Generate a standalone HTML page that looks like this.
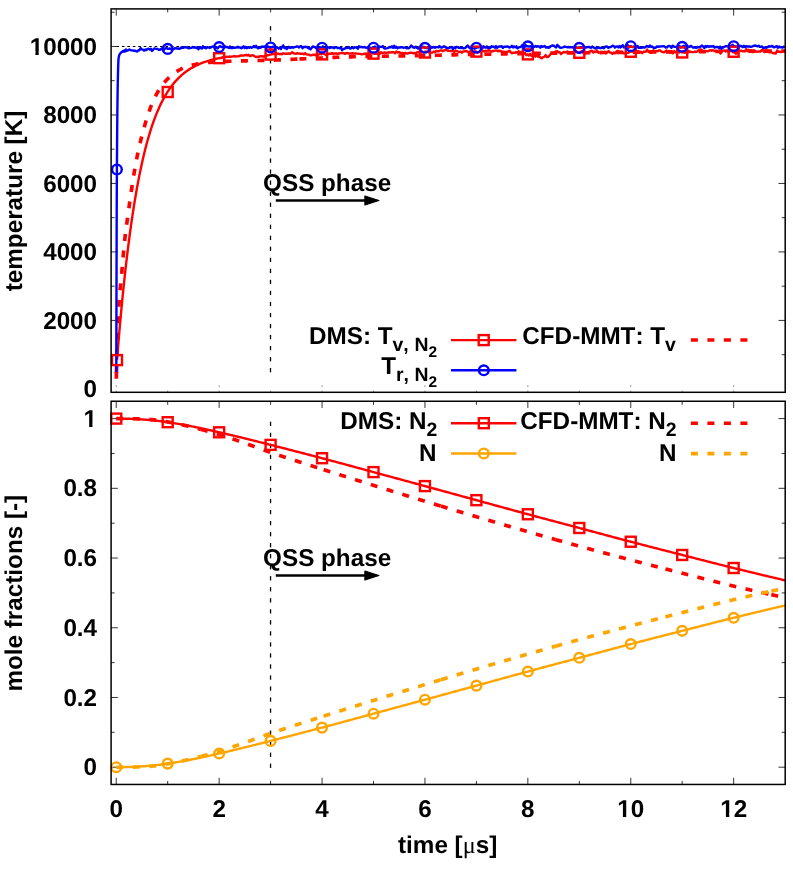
<!DOCTYPE html>
<html lang="en">
<head>
<meta charset="utf-8">
<title>DMS vs CFD-MMT: temperature and mole fractions</title>
<style>
html,body{margin:0;padding:0;background:#fff;}
body{width:793px;height:872px;overflow:hidden;font-family:"Liberation Sans",sans-serif;}
svg{display:block;will-change:transform;-webkit-font-smoothing:antialiased;text-rendering:geometricPrecision;}
text{font-kerning:none;}
</style>
</head>
<body>
<svg width="793" height="872" viewBox="0 0 793 872">
<rect x="0" y="0" width="793" height="872" fill="#fff"/>
<!-- top plot -->
<line x1="116.45" y1="46.46" x2="785.20" y2="46.46" stroke="#000" stroke-width="1.15" stroke-dasharray="2.6 2.85"/>
<g stroke="#000" stroke-width="0.80" fill="none"><line x1="116.25" y1="8.90" x2="116.25" y2="15.60"/><line x1="167.70" y1="8.90" x2="167.70" y2="12.40"/><line x1="219.15" y1="8.90" x2="219.15" y2="15.60"/><line x1="270.60" y1="8.90" x2="270.60" y2="12.40"/><line x1="322.05" y1="8.90" x2="322.05" y2="15.60"/><line x1="373.50" y1="8.90" x2="373.50" y2="12.40"/><line x1="424.95" y1="8.90" x2="424.95" y2="15.60"/><line x1="476.40" y1="8.90" x2="476.40" y2="12.40"/><line x1="527.85" y1="8.90" x2="527.85" y2="15.60"/><line x1="579.30" y1="8.90" x2="579.30" y2="12.40"/><line x1="630.75" y1="8.90" x2="630.75" y2="15.60"/><line x1="682.20" y1="8.90" x2="682.20" y2="12.40"/><line x1="733.65" y1="8.90" x2="733.65" y2="15.60"/><line x1="111.10" y1="320.41" x2="117.80" y2="320.41"/><line x1="785.20" y1="320.41" x2="778.50" y2="320.41"/><line x1="111.10" y1="251.92" x2="117.80" y2="251.92"/><line x1="785.20" y1="251.92" x2="778.50" y2="251.92"/><line x1="111.10" y1="183.44" x2="117.80" y2="183.44"/><line x1="785.20" y1="183.44" x2="778.50" y2="183.44"/><line x1="111.10" y1="114.95" x2="117.80" y2="114.95"/><line x1="785.20" y1="114.95" x2="778.50" y2="114.95"/><line x1="111.10" y1="46.46" x2="117.80" y2="46.46"/><line x1="785.20" y1="46.46" x2="778.50" y2="46.46"/><line x1="111.10" y1="354.66" x2="114.60" y2="354.66"/><line x1="785.20" y1="354.66" x2="781.70" y2="354.66"/><line x1="111.10" y1="286.17" x2="114.60" y2="286.17"/><line x1="785.20" y1="286.17" x2="781.70" y2="286.17"/><line x1="111.10" y1="217.68" x2="114.60" y2="217.68"/><line x1="785.20" y1="217.68" x2="781.70" y2="217.68"/><line x1="111.10" y1="149.19" x2="114.60" y2="149.19"/><line x1="785.20" y1="149.19" x2="781.70" y2="149.19"/><line x1="111.10" y1="80.70" x2="114.60" y2="80.70"/><line x1="785.20" y1="80.70" x2="781.70" y2="80.70"/><line x1="111.10" y1="12.22" x2="114.60" y2="12.22"/><line x1="785.20" y1="12.22" x2="781.70" y2="12.22"/></g><g stroke="#000" stroke-width="0.80" fill="none" opacity="0.8"><line x1="116.25" y1="385.50" x2="116.25" y2="386.70"/><line x1="116.25" y1="390.70" x2="116.25" y2="391.70"/><line x1="167.70" y1="390.70" x2="167.70" y2="391.70"/><line x1="219.15" y1="385.50" x2="219.15" y2="386.70"/><line x1="219.15" y1="390.70" x2="219.15" y2="391.70"/><line x1="270.60" y1="390.70" x2="270.60" y2="391.70"/><line x1="322.05" y1="385.50" x2="322.05" y2="386.70"/><line x1="322.05" y1="390.70" x2="322.05" y2="391.70"/><line x1="373.50" y1="390.70" x2="373.50" y2="391.70"/><line x1="424.95" y1="385.50" x2="424.95" y2="386.70"/><line x1="424.95" y1="390.70" x2="424.95" y2="391.70"/><line x1="476.40" y1="390.70" x2="476.40" y2="391.70"/><line x1="527.85" y1="385.50" x2="527.85" y2="386.70"/><line x1="527.85" y1="390.70" x2="527.85" y2="391.70"/><line x1="579.30" y1="390.70" x2="579.30" y2="391.70"/><line x1="630.75" y1="385.50" x2="630.75" y2="386.70"/><line x1="630.75" y1="390.70" x2="630.75" y2="391.70"/><line x1="682.20" y1="390.70" x2="682.20" y2="391.70"/><line x1="733.65" y1="385.50" x2="733.65" y2="386.70"/><line x1="733.65" y1="390.70" x2="733.65" y2="391.70"/></g>
<g stroke="#000" stroke-width="1.3" fill="none"><line x1="270.50" y1="26.10" x2="270.50" y2="30.40"/><line x1="270.50" y1="37.13" x2="270.50" y2="41.43"/><line x1="270.50" y1="48.16" x2="270.50" y2="52.46"/><line x1="270.50" y1="59.19" x2="270.50" y2="63.49"/><line x1="270.50" y1="70.22" x2="270.50" y2="74.52"/><line x1="270.50" y1="81.25" x2="270.50" y2="85.55"/><line x1="270.50" y1="92.28" x2="270.50" y2="96.58"/><line x1="270.50" y1="103.31" x2="270.50" y2="107.61"/><line x1="270.50" y1="114.34" x2="270.50" y2="118.64"/><line x1="270.50" y1="125.37" x2="270.50" y2="129.67"/><line x1="270.50" y1="136.40" x2="270.50" y2="140.70"/><line x1="270.50" y1="147.43" x2="270.50" y2="151.73"/><line x1="270.50" y1="158.46" x2="270.50" y2="162.76"/><line x1="270.50" y1="169.49" x2="270.50" y2="173.79"/><line x1="270.50" y1="180.52" x2="270.50" y2="184.82"/><line x1="270.50" y1="191.55" x2="270.50" y2="195.85"/><line x1="270.50" y1="202.58" x2="270.50" y2="206.88"/><line x1="270.50" y1="213.61" x2="270.50" y2="217.91"/><line x1="270.50" y1="224.64" x2="270.50" y2="228.94"/><line x1="270.50" y1="235.67" x2="270.50" y2="239.97"/><line x1="270.50" y1="246.70" x2="270.50" y2="251.00"/><line x1="270.50" y1="257.73" x2="270.50" y2="262.03"/><line x1="270.50" y1="268.76" x2="270.50" y2="273.06"/><line x1="270.50" y1="279.79" x2="270.50" y2="284.09"/><line x1="270.50" y1="290.82" x2="270.50" y2="295.12"/><line x1="270.50" y1="301.85" x2="270.50" y2="306.15"/><line x1="270.50" y1="312.88" x2="270.50" y2="317.18"/><line x1="270.50" y1="323.91" x2="270.50" y2="328.21"/><line x1="270.50" y1="334.94" x2="270.50" y2="339.24"/><line x1="270.50" y1="345.97" x2="270.50" y2="350.27"/><line x1="270.50" y1="357.00" x2="270.50" y2="361.30"/><line x1="270.50" y1="368.03" x2="270.50" y2="372.33"/></g>
<path d="M117.00,360.10 L117.38,355.37 L117.75,350.72 L118.13,346.13 L118.51,341.62 L118.88,337.17 L119.26,332.80 L119.64,328.49 L120.01,324.25 L120.39,320.08 L120.77,315.96 L121.14,311.92 L121.52,307.93 L121.90,304.01 L122.27,300.15 L122.65,296.34 L123.03,292.60 L123.40,288.91 L123.78,285.28 L124.15,281.71 L124.53,278.19 L124.91,274.73 L125.28,271.32 L125.66,267.96 L126.04,264.66 L126.41,261.40 L126.79,258.20 L127.17,255.04 L127.54,251.94 L127.92,248.88 L128.30,245.87 L128.67,242.90 L129.05,239.98 L129.43,237.11 L129.80,234.28 L130.18,231.50 L130.56,228.75 L130.93,226.05 L131.31,223.40 L131.69,220.78 L132.71,213.83 L134.00,205.55 L135.29,197.70 L136.57,190.25 L137.86,183.20 L139.15,176.50 L140.43,170.16 L141.72,164.14 L143.00,158.43 L144.29,153.02 L145.58,147.89 L146.86,143.03 L148.15,138.42 L149.44,134.04 L150.72,129.90 L152.01,125.97 L153.29,122.24 L154.58,118.70 L155.87,115.35 L157.15,112.17 L158.44,109.16 L159.73,106.30 L161.01,103.59 L162.30,101.02 L163.58,98.59 L164.87,96.28 L166.16,94.09 L167.44,92.01 L168.73,90.04 L170.02,88.17 L171.30,86.40 L172.59,84.72 L173.87,83.13 L175.16,81.62 L176.45,80.19 L177.73,78.83 L179.02,77.55 L180.31,76.33 L181.59,75.17 L182.88,74.07 L184.16,73.03 L185.45,72.05 L186.74,71.11 L188.02,70.22 L189.31,69.38 L190.60,68.59 L191.88,67.83 L193.17,67.11 L194.45,66.43 L195.74,65.78 L197.03,65.16 L198.31,64.57 L199.60,64.00 L200.89,63.44 L202.17,62.92 L203.46,62.37 L204.74,61.94 L206.03,61.57 L207.32,61.10 L208.60,60.83 L209.89,60.28 L211.18,59.74 L212.46,59.71 L213.75,59.57 L215.03,59.00 L216.32,58.80 L217.61,58.43 L218.89,58.31 L220.18,57.92 L221.47,57.99 L222.75,57.09 L224.04,57.40 L225.32,57.00 L226.61,56.75 L227.90,56.90 L229.18,56.56 L230.47,56.69 L231.76,56.64 L233.04,56.43 L234.33,56.04 L235.61,56.55 L236.90,56.34 L238.19,56.25 L239.47,56.12 L240.76,55.35 L242.05,55.63 L243.33,55.56 L244.62,55.27 L245.90,54.85 L247.19,55.44 L248.48,54.73 L249.76,56.07 L251.05,55.74 L252.34,55.16 L253.62,55.53 L254.91,56.46 L256.19,57.10 L257.48,56.68 L258.77,57.11 L260.05,56.22 L261.34,56.30 L262.63,56.32 L263.91,56.69 L265.20,55.62 L266.48,55.66 L267.77,55.24 L269.06,54.97 L270.34,54.64 L271.63,54.29 L272.92,54.05 L274.20,53.96 L275.49,52.87 L276.77,54.25 L278.06,53.56 L279.35,54.18 L280.63,53.91 L281.92,54.27 L283.21,53.33 L284.49,53.72 L285.78,53.75 L287.06,53.80 L288.35,53.35 L289.64,53.83 L290.92,53.29 L292.21,52.27 L293.50,53.23 L294.78,53.54 L296.07,53.81 L297.35,53.18 L298.64,53.46 L299.93,53.78 L301.21,53.78 L302.50,53.60 L303.79,54.27 L305.07,53.23 L306.36,54.35 L307.64,54.49 L308.93,54.59 L310.22,55.39 L311.50,55.24 L312.79,54.77 L314.08,54.65 L315.36,55.30 L316.65,54.19 L317.93,54.84 L319.22,54.19 L320.51,53.94 L321.79,54.22 L323.08,53.00 L324.37,53.95 L325.65,54.75 L326.94,54.94 L328.22,53.96 L329.51,53.61 L330.80,53.93 L332.08,53.11 L333.37,53.90 L334.66,53.44 L335.94,53.32 L337.23,54.06 L338.51,53.45 L339.80,53.45 L341.09,53.15 L342.37,53.12 L343.66,53.16 L344.95,53.84 L346.23,53.09 L347.52,52.99 L348.80,53.59 L350.09,53.43 L351.38,53.49 L352.66,53.25 L353.95,53.69 L355.24,53.46 L356.52,53.57 L357.81,53.60 L359.09,53.89 L360.38,53.91 L361.67,54.42 L362.95,54.15 L364.24,53.73 L365.53,53.71 L366.81,53.59 L368.10,53.88 L369.38,53.06 L370.67,53.77 L371.96,53.13 L373.24,53.30 L374.53,53.84 L375.82,53.85 L377.10,53.39 L378.39,53.92 L379.67,54.00 L380.96,52.26 L382.25,52.99 L383.53,52.75 L384.82,52.33 L386.11,52.90 L387.39,52.66 L388.68,52.27 L389.96,52.74 L391.25,52.26 L392.54,52.30 L393.82,52.23 L395.11,53.21 L396.40,51.60 L397.68,52.46 L398.97,52.14 L400.25,52.89 L401.54,53.28 L402.83,52.90 L404.11,53.32 L405.40,52.86 L406.69,53.55 L407.97,53.50 L409.26,52.88 L410.54,52.79 L411.83,52.76 L413.12,53.24 L414.40,53.01 L415.69,53.45 L416.98,52.29 L418.26,52.15 L419.55,51.94 L420.83,53.05 L422.12,51.72 L423.41,52.42 L424.69,51.71 L425.98,51.81 L427.27,51.51 L428.55,52.29 L429.84,52.35 L431.12,52.61 L432.41,52.62 L433.70,51.57 L434.98,52.04 L436.27,50.96 L437.56,51.26 L438.84,51.27 L440.13,50.41 L441.41,50.41 L442.70,51.11 L443.99,50.48 L445.27,50.20 L446.56,49.94 L447.85,50.82 L449.13,50.82 L450.42,50.96 L451.70,50.91 L452.99,51.19 L454.28,52.07 L455.56,50.63 L456.85,51.09 L458.14,51.56 L459.42,52.04 L460.71,51.58 L461.99,52.65 L463.28,51.40 L464.57,51.29 L465.85,51.00 L467.14,51.36 L468.43,52.45 L469.71,51.61 L471.00,51.07 L472.28,52.64 L473.57,51.95 L474.86,51.21 L476.14,51.57 L477.43,52.73 L478.72,51.89 L480.00,51.34 L481.29,49.95 L482.57,51.02 L483.86,51.35 L485.15,50.80 L486.43,50.83 L487.72,50.67 L489.01,50.14 L490.29,50.93 L491.58,51.65 L492.86,50.91 L494.15,50.99 L495.44,50.50 L496.72,50.51 L498.01,51.35 L499.30,50.58 L500.58,50.87 L501.87,51.96 L503.15,51.76 L504.44,52.03 L505.73,51.85 L507.01,51.85 L508.30,51.52 L509.59,50.66 L510.87,52.45 L512.16,53.29 L513.44,52.66 L514.73,52.75 L516.02,52.23 L517.30,52.63 L518.59,51.24 L519.88,52.42 L521.16,52.05 L522.45,53.77 L523.73,53.76 L525.02,52.74 L526.31,55.16 L527.59,54.41 L528.88,55.51 L530.17,53.86 L531.45,55.72 L532.74,55.32 L534.02,55.53 L535.31,56.68 L536.60,54.64 L537.88,56.68 L539.17,56.09 L540.46,57.80 L541.74,58.22 L543.03,57.13 L544.31,56.92 L545.60,55.08 L546.89,57.03 L548.17,56.83 L549.46,55.48 L550.75,53.94 L552.03,52.88 L553.32,52.97 L554.60,52.26 L555.89,51.43 L557.18,51.11 L558.46,52.37 L559.75,52.19 L561.04,54.12 L562.32,52.95 L563.61,52.03 L564.89,52.22 L566.18,52.40 L567.47,51.41 L568.75,52.66 L570.04,53.01 L571.33,52.08 L572.61,51.98 L573.90,52.82 L575.18,51.59 L576.47,51.22 L577.76,52.62 L579.04,52.70 L580.33,52.07 L581.62,51.20 L582.90,52.73 L584.19,53.24 L585.47,53.55 L586.76,52.63 L588.05,52.24 L589.33,52.07 L590.62,51.20 L591.91,50.63 L593.19,52.48 L594.48,51.52 L595.76,52.03 L597.05,50.36 L598.34,52.79 L599.62,52.38 L600.91,52.05 L602.20,53.01 L603.48,52.35 L604.77,51.88 L606.05,53.37 L607.34,52.25 L608.63,51.07 L609.91,52.46 L611.20,52.73 L612.49,53.88 L613.77,52.44 L615.06,53.34 L616.34,51.75 L617.63,50.84 L618.92,51.50 L620.20,52.58 L621.49,51.86 L622.78,52.78 L624.06,53.35 L625.35,53.08 L626.63,52.74 L627.92,52.92 L629.21,52.13 L630.49,50.88 L631.78,51.62 L633.07,51.25 L634.35,51.90 L635.64,50.61 L636.92,51.48 L638.21,51.27 L639.50,52.50 L640.78,51.65 L642.07,53.18 L643.36,51.67 L644.64,51.72 L645.93,51.57 L647.21,49.51 L648.50,51.96 L649.79,51.33 L651.07,51.63 L652.36,50.96 L653.65,50.30 L654.93,51.71 L656.22,50.95 L657.50,51.20 L658.79,50.41 L660.08,50.44 L661.36,51.57 L662.65,51.89 L663.94,52.39 L665.22,51.45 L666.51,50.54 L667.79,51.39 L669.08,52.28 L670.37,52.54 L671.65,52.63 L672.94,53.36 L674.23,51.13 L675.51,52.34 L676.80,52.68 L678.08,50.98 L679.37,52.41 L680.66,51.55 L681.94,52.34 L683.23,51.69 L684.52,52.31 L685.80,52.56 L687.09,51.93 L688.37,51.61 L689.66,51.33 L690.95,51.91 L692.23,52.17 L693.52,52.16 L694.81,51.57 L696.09,52.02 L697.38,51.47 L698.66,50.21 L699.95,49.55 L701.24,49.44 L702.52,50.86 L703.81,51.92 L705.10,51.14 L706.38,51.11 L707.67,51.33 L708.95,50.79 L710.24,50.14 L711.53,50.70 L712.81,50.08 L714.10,51.10 L715.39,50.65 L716.67,51.18 L717.96,51.87 L719.24,50.88 L720.53,53.59 L721.82,51.65 L723.10,50.60 L724.39,50.43 L725.68,51.49 L726.96,50.30 L728.25,51.88 L729.53,51.28 L730.82,50.02 L732.11,51.35 L733.39,51.01 L734.68,52.87 L735.97,53.73 L737.25,52.90 L738.54,51.22 L739.82,51.07 L741.11,50.54 L742.40,51.21 L743.68,51.24 L744.97,51.39 L746.26,49.16 L747.54,51.18 L748.83,49.89 L750.11,51.29 L751.40,50.19 L752.69,52.08 L753.97,51.74 L755.26,51.10 L756.55,51.78 L757.83,51.67 L759.12,51.45 L760.40,51.67 L761.69,50.04 L762.98,50.29 L764.26,52.13 L765.55,49.72 L766.84,51.09 L768.12,51.71 L769.41,52.40 L770.69,52.20 L771.98,52.38 L773.27,53.38 L774.55,53.00 L775.84,53.51 L777.13,50.45 L778.41,51.84 L779.70,51.80 L780.98,52.00 L782.27,51.68 L783.56,51.28 L784.84,51.78" fill="none" stroke="#ff0000" stroke-width="2.40" stroke-linejoin="round"/>
<g fill="none" stroke="#ff0000" stroke-width="3.65" stroke-dasharray="7.00 9.50"><path stroke-dashoffset="10.60" d="M116.25,378.63 L116.33,376.25 L116.41,373.88 L116.48,371.54 L116.56,369.21 L116.64,366.90 L116.72,364.61 L116.79,362.33 L116.87,360.07 L116.95,357.83 L117.03,355.60 L117.10,353.40 L117.18,351.20 L117.26,349.03 L117.34,346.87 L117.41,344.73 L117.49,342.60 L117.57,340.49 L117.65,338.39 L117.72,336.32 L117.80,334.25 L117.88,332.20 L117.96,330.17 L118.03,328.15 L118.11,326.15 L118.19,324.16 L118.27,322.19 L118.34,320.23 L118.42,318.29 L118.50,316.36 L118.58,314.45 L118.65,312.55 L118.73,310.67 L118.81,308.79 L118.89,306.97 L118.96,305.24 L119.04,303.60 L119.12,302.06 L119.20,300.62 L119.27,299.27 L119.35,298.00 L119.43,296.81 L119.51,295.71 L119.59,294.67 L119.66,293.70 L119.74,292.79 L119.82,291.93 L119.90,291.12 L119.97,290.36 L120.05,289.63 L120.13,288.93 L120.21,288.26 L120.28,287.61 L120.36,286.97 L120.44,286.34 L120.52,285.72 L120.59,285.09 L120.67,284.46 L120.75,283.82 L120.83,283.16 L120.90,282.48 L120.98,281.77 L121.06,281.04 L121.14,280.26 L121.21,279.45 L121.29,278.60 L121.37,277.69 L121.45,276.75 L121.52,275.80 L121.60,274.85 L121.68,273.90 L121.76,272.96 L121.83,272.02 L121.91,271.08 L121.99,270.14 L122.07,269.21 L122.14,268.28 L122.22,267.35 L122.30,266.42 L122.38,265.50 L122.46,264.58 L122.53,263.66 L122.61,262.75 L122.69,261.84 L122.77,260.93 L122.84,260.03 L122.92,259.13 L123.00,258.23 L123.08,257.34 L123.15,256.46 L123.23,255.58 L123.31,254.70 L123.39,253.83 L123.46,252.97 L123.54,252.11 L123.62,251.26 L123.70,250.42 L123.77,249.58 L123.85,248.75 L123.93,247.93 L124.01,247.11 L124.08,246.30 L124.16,245.50 L124.24,244.71 L124.32,243.93 L124.39,243.15 L124.47,242.39 L124.55,241.64 L124.63,240.89 L124.70,240.16 L124.78,239.43 L124.86,238.72 L124.94,238.01 L125.01,237.32 L125.09,236.63 L125.17,235.96 L125.25,235.29 L125.32,234.63 L125.40,233.97 L125.48,233.33 L125.56,232.69 L125.64,232.06 L125.71,231.43 L125.79,230.82 L125.87,230.20 L125.95,229.60 L126.02,229.00 L126.10,228.40 L126.18,227.81 L126.26,227.23 L126.33,226.65 L126.41,226.07 L126.49,225.50 L126.57,224.93 L126.64,224.37 L126.72,223.81 L126.80,223.25 L126.88,222.69 L126.95,222.14 L127.03,221.59 L127.11,221.04 L127.19,220.49 L127.26,219.94 L127.34,219.40 L127.42,218.85 L127.50,218.31 L127.57,217.76 L127.65,217.22 L127.73,216.68 L127.81,216.13 L127.88,215.59 L127.96,215.04 L128.04,214.50 L128.12,213.95 L128.19,213.40 L128.27,212.85 L128.35,212.30 L128.43,211.74 L128.50,211.18 L128.58,210.62 L128.66,210.06 L128.74,209.49 L128.82,208.92 L128.89,208.35 L128.97,207.77 L129.05,207.18 L129.13,206.60 L129.20,206.01 L129.28,205.43 L129.36,204.84 L129.44,204.26 L129.51,203.68 L129.59,203.11 L129.67,202.53 L129.75,201.96 L129.82,201.39 L129.90,200.83 L129.98,200.26 L130.06,199.70 L130.13,199.14 L130.21,198.58 L130.29,198.03 L130.37,197.47 L130.44,196.92 L130.52,196.37 L130.60,195.82 L130.68,195.28 L130.75,194.73 L130.83,194.19 L130.91,193.65 L130.99,193.12 L131.06,192.58 L131.14,192.05 L131.22,191.52 L131.30,190.99 L131.37,190.46 L131.45,189.94 L131.53,189.41 L131.61,188.89 L131.69,188.37 L132.08,185.77 L132.47,183.21 L132.87,180.71 L133.26,178.25 L133.65,175.84 L134.05,173.48 L134.44,171.17 L134.83,168.90 L135.23,166.68 L135.62,164.50 L136.02,162.38 L136.41,160.29 L136.80,158.26 L137.20,156.27 L137.59,154.32 L137.98,152.42 L138.38,150.57 L138.77,148.76 L139.17,147.00 L139.56,145.28 L139.95,143.60 L140.35,141.95 L140.74,140.34 L141.13,138.76 L141.53,137.21 L141.92,135.69 L142.32,134.19 L142.71,132.72 L143.10,131.27 L143.50,129.84 L143.89,128.42 L144.28,127.02 L144.68,125.64 L145.07,124.27 L145.47,122.91 L145.86,121.56 L146.25,120.24 L146.65,118.95 L147.04,117.68 L147.43,116.44 L147.83,115.23 L148.22,114.04 L148.62,112.87 L149.01,111.73 L149.40,110.61 L149.80,109.52 L150.19,108.45 L150.58,107.40 L150.98,106.38 L151.37,105.38 L151.76,104.40 L152.16,103.44 L152.55,102.51 L152.95,101.59 L153.34,100.70 L153.73,99.83 L154.13,98.98 L154.52,98.15 L154.91,97.34 L155.31,96.55 L155.70,95.77 L156.10,95.02 L156.49,94.28 L156.88,93.56 L157.28,92.85 L157.67,92.16 L158.06,91.48 L158.46,90.82 L158.85,90.17 L159.25,89.54 L159.64,88.92 L160.03,88.32 L160.43,87.72 L160.82,87.14 L161.21,86.58 L161.61,86.02 L162.00,85.48 L162.40,84.95 L162.79,84.43 L163.18,83.92 L163.58,83.43 L163.97,82.94 L164.36,82.47 L164.76,82.00 L165.15,81.55 L165.55,81.10 L165.94,80.67 L166.33,80.24 L166.73,79.83 L167.12,79.42 L167.51,79.02 L167.91,78.63 L168.30,78.25 L168.70,77.87 L169.09,77.50 L169.48,77.14 L169.88,76.78 L170.27,76.43 L170.66,76.09 L171.06,75.75 L171.45,75.42 L171.84,75.09 L172.24,74.77 L172.63,74.46 L173.03,74.15 L173.42,73.85 L173.81,73.55 L174.21,73.26 L174.60,72.97 L174.99,72.69 L175.39,72.42 L175.78,72.15 L176.18,71.89 L176.57,71.63 L176.96,71.38 L177.36,71.13 L177.75,70.89 L178.14,70.65 L178.54,70.42 L178.93,70.20 L179.33,69.98 L179.72,69.76 L180.11,69.55 L180.51,69.34 L180.90,69.14 L181.29,68.94 L181.69,68.75 L182.08,68.56 L182.48,68.38 L182.87,68.20 L183.26,68.02 L183.66,67.85 L184.05,67.69 L184.44,67.52 L184.84,67.36 L185.23,67.21 L185.63,67.06 L186.02,66.91 L186.41,66.77 L186.81,66.63 L187.20,66.49 L187.59,66.36 L187.99,66.23 L188.38,66.10 L188.78,65.98 L189.17,65.86 L189.56,65.75 L189.96,65.63 L190.35,65.52 L190.74,65.42 L191.14,65.31 L191.53,65.21 L191.92,65.12 L192.32,65.02 L192.71,64.93 L193.11,64.84 L193.50,64.75 L193.89,64.67 L194.29,64.58 L194.68,64.50 L195.07,64.42 L195.47,64.34 L195.86,64.27 L196.26,64.19 L196.65,64.12 L197.04,64.05 L197.44,63.98 L197.83,63.91 L198.22,63.84 L198.62,63.77 L199.01,63.71 L199.41,63.65 L199.80,63.59 L200.19,63.52 L200.59,63.47 L200.98,63.41 L201.37,63.35 L201.77,63.30 L202.16,63.24 L202.56,63.19 L202.95,63.14 L203.34,63.09 L203.74,63.04 L204.13,62.99 L204.52,62.94 L204.92,62.89 L205.31,62.85 L205.71,62.80 L206.10,62.76 L206.49,62.71 L206.89,62.67 L207.28,62.63 L207.67,62.59 L208.07,62.55 L208.46,62.51 L208.86,62.47 L209.25,62.44 L209.64,62.40 L210.04,62.37 L210.43,62.33 L210.82,62.30 L211.22,62.26 L211.61,62.23 L212.00,62.20 L212.40,62.17 L212.79,62.13 L213.19,62.10 L213.58,62.07 L213.97,62.05 L214.37,62.02 L214.76,61.99 L215.15,61.96 L215.55,61.94 L215.94,61.91 L216.34,61.88 L216.73,61.86 L217.12,61.83 L217.52,61.81 L217.91,61.79 L218.30,61.76 L218.70,61.74 L219.09,61.72 L219.49,61.70 L219.88,61.67 L220.27,61.65 L220.67,61.63 L221.06,61.61 L221.45,61.59 L221.85,61.57 L222.24,61.55 L222.64,61.54 L223.03,61.52 L223.42,61.50 L223.82,61.48 L224.21,61.46 L224.60,61.45 L225.00,61.43 L225.39,61.42 L225.79,61.40 L226.18,61.38 L226.57,61.37 L226.97,61.35 L227.36,61.34 L227.75,61.32 L228.15,61.31 L228.54,61.30 L228.94,61.28 L229.33,61.27 L229.72,61.25 L230.12,61.24 L230.51,61.23 L230.90,61.22 L231.30,61.20 L231.69,61.19 L232.08,61.18 L232.48,61.17 L232.87,61.16 L233.27,61.14 L233.66,61.13 L234.05,61.12 L234.45,61.11 L234.84,61.10 L235.23,61.09 L235.63,61.08 L236.02,61.07 L236.42,61.06 L236.81,61.05 L237.20,61.04 L237.60,61.02 L237.99,61.01 L238.38,61.00 L238.78,60.99 L239.17,60.99 L239.57,60.98 L239.96,60.97 L240.35,60.96 L240.75,60.95 L241.14,60.94 L241.53,60.93 L241.93,60.92 L242.32,60.91 L242.72,60.90 L243.11,60.89 L243.50,60.88 L243.90,60.87 L244.29,60.86 L244.68,60.85 L245.08,60.84 L245.47,60.84 L245.87,60.83 L246.26,60.82 L246.65,60.81 L247.05,60.80 L247.44,60.79 L247.83,60.78 L248.23,60.77 L248.62,60.76 L249.02,60.75 L249.41,60.74 L249.80,60.73 L250.20,60.73 L250.59,60.72 L250.98,60.71 L251.38,60.70 L251.77,60.69 L252.16,60.68 L252.56,60.67 L252.95,60.66 L253.35,60.65 L253.74,60.64 L254.13,60.63 L254.53,60.62 L254.92,60.61 L255.31,60.60 L255.71,60.59 L256.10,60.58 L256.50,60.57 L256.89,60.56 L257.28,60.55 L257.68,60.54 L258.07,60.53 L258.46,60.52 L258.86,60.51 L259.25,60.50 L259.65,60.49 L260.04,60.48 L260.43,60.47 L260.83,60.46 L261.22,60.45 L261.61,60.44 L262.01,60.43 L262.40,60.42 L262.80,60.41 L263.19,60.40 L263.58,60.39 L263.98,60.38 L264.37,60.37 L264.76,60.36 L265.16,60.35 L265.55,60.34 L265.95,60.33 L266.34,60.32 L266.73,60.31 L267.13,60.30 L267.52,60.28 L267.91,60.27 L268.31,60.26 L268.70,60.25 L269.10,60.24 L269.49,60.23 L269.88,60.22 L270.28,60.21 L270.67,60.19 L271.06,60.18 L271.46,60.17 L271.85,60.16 L272.24,60.15 L272.64,60.14 L273.03,60.12 L273.43,60.11 L273.82,60.10 L274.21,60.08 L274.61,60.07 L275.00,60.06 L275.39,60.04 L275.79,60.03 L276.18,60.01 L276.58,60.00 L276.97,59.99 L277.36,59.97 L277.76,59.96 L278.15,59.94 L278.54,59.93 L278.94,59.91 L279.33,59.89 L279.73,59.88 L280.12,59.86 L280.51,59.85 L280.91,59.83 L281.30,59.81 L281.69,59.80 L282.09,59.78 L282.48,59.76 L282.88,59.75 L283.27,59.73 L283.66,59.71 L284.06,59.70 L284.45,59.68 L284.84,59.66 L285.24,59.65 L285.63,59.63 L286.03,59.61 L286.42,59.59 L286.81,59.58 L287.21,59.56 L287.60,59.54 L287.99,59.52 L288.39,59.50 L288.78,59.49 L289.18,59.47 L289.57,59.45 L289.96,59.43 L290.36,59.41 L290.75,59.40 L291.14,59.38 L291.54,59.36 L291.93,59.34 L292.32,59.32 L292.72,59.30 L293.11,59.29 L293.51,59.27 L293.90,59.25 L294.29,59.23 L294.69,59.21 L295.08,59.19 L295.47,59.18 L295.87,59.16 L296.26,59.14 L296.66,59.12 L297.05,59.10 L297.44,59.09 L297.84,59.07 L298.23,59.05 L298.62,59.03 L299.02,59.01 L299.41,59.00"/><path d="M299.41,59.00 L299.84,58.98 L300.27,58.96 L300.70,58.94 L301.14,58.92 L301.57,58.90 L302.00,58.88 L302.43,58.86 L302.86,58.84 L303.29,58.83 L303.72,58.81 L304.15,58.79 L304.58,58.77 L305.01,58.75 L305.45,58.73 L305.88,58.71 L306.31,58.70 L306.74,58.68 L307.17,58.66 L307.60,58.64 L308.03,58.62 L308.46,58.60 L308.89,58.58 L309.32,58.56 L309.76,58.54 L310.19,58.52 L310.62,58.50 L311.05,58.48 L311.48,58.46 L311.91,58.44 L312.34,58.42 L312.77,58.40 L313.20,58.38 L313.63,58.36 L314.07,58.34 L314.50,58.32 L314.93,58.29 L315.36,58.27 L315.79,58.25 L316.22,58.23 L316.65,58.21 L317.08,58.19 L317.51,58.17 L317.94,58.15 L318.38,58.13 L318.81,58.11 L319.24,58.08 L319.67,58.06 L320.10,58.04 L320.53,58.02 L320.96,58.00 L321.39,57.98 L321.82,57.96 L322.25,57.94 L322.69,57.92 L323.12,57.90 L323.55,57.87 L323.98,57.85 L324.41,57.83 L324.84,57.81 L325.27,57.79 L325.70,57.77 L326.13,57.75 L326.56,57.73 L327.00,57.71 L327.43,57.69 L327.86,57.67 L328.29,57.65 L328.72,57.63 L329.15,57.61 L329.58,57.59 L330.01,57.57 L330.44,57.55 L330.87,57.53 L331.31,57.51 L331.74,57.49 L332.17,57.47 L332.60,57.45 L333.03,57.43 L333.46,57.42 L333.89,57.40 L334.32,57.38 L334.75,57.36 L335.18,57.34 L335.61,57.32 L336.05,57.31 L336.48,57.29 L336.91,57.27 L337.34,57.25 L337.77,57.24 L338.20,57.22 L338.63,57.20 L339.06,57.19 L339.49,57.17 L339.92,57.16 L340.36,57.14 L340.79,57.12 L341.22,57.11 L341.65,57.09 L342.08,57.08 L342.51,57.06 L342.94,57.05 L343.37,57.03 L343.80,57.02 L344.23,57.01 L344.67,56.99 L345.10,56.98 L345.53,56.97 L345.96,56.95 L346.39,56.94 L346.82,56.93 L347.25,56.92 L347.68,56.91 L348.11,56.90 L348.54,56.88 L348.98,56.87 L349.41,56.86 L349.84,56.85 L350.27,56.84 L350.70,56.83 L351.13,56.82 L351.56,56.81 L351.99,56.80 L352.42,56.79 L352.85,56.78 L353.29,56.77 L353.72,56.76 L354.15,56.75 L354.58,56.74 L355.01,56.73 L355.44,56.72 L355.87,56.71 L356.30,56.70 L356.73,56.69 L357.16,56.68 L357.60,56.67 L358.03,56.66 L358.46,56.65 L358.89,56.64 L359.32,56.63 L359.75,56.62 L360.18,56.62 L360.61,56.61 L361.04,56.60 L361.47,56.59 L361.91,56.58 L362.34,56.57 L362.77,56.56 L363.20,56.55 L363.63,56.55 L364.06,56.54 L364.49,56.53 L364.92,56.52 L365.35,56.51 L365.78,56.50 L366.21,56.50 L366.65,56.49 L367.08,56.48 L367.51,56.47 L367.94,56.46 L368.37,56.46 L368.80,56.45 L369.23,56.44 L369.66,56.43 L370.09,56.43 L370.52,56.42 L370.96,56.41 L371.39,56.40 L371.82,56.40 L372.25,56.39 L372.68,56.38 L373.11,56.37 L373.54,56.37 L373.97,56.36 L374.40,56.35 L374.83,56.34 L375.27,56.34 L375.70,56.33 L376.13,56.32 L376.56,56.32 L376.99,56.31 L377.42,56.30 L377.85,56.30 L378.28,56.29 L378.71,56.28 L379.14,56.27 L379.58,56.27 L380.01,56.26 L380.44,56.25 L380.87,56.25 L381.30,56.24 L381.73,56.23 L382.16,56.23 L382.59,56.22 L383.02,56.21 L383.45,56.21 L383.89,56.20 L384.32,56.19 L384.75,56.19 L385.18,56.18 L385.61,56.17 L386.04,56.17 L386.47,56.16 L386.90,56.16 L387.33,56.15 L387.76,56.14 L388.20,56.14 L388.63,56.13 L389.06,56.12 L389.49,56.12 L389.92,56.11 L390.35,56.10 L390.78,56.10 L391.21,56.09 L391.64,56.09 L392.07,56.08 L392.51,56.07 L392.94,56.07 L393.37,56.06 L393.80,56.05 L394.23,56.05 L394.66,56.04 L395.09,56.03 L395.52,56.03 L395.95,56.02 L396.38,56.02 L396.82,56.01 L397.25,56.00 L397.68,56.00 L398.11,55.99 L398.54,55.98 L398.97,55.98 L399.40,55.97 L399.83,55.96 L400.26,55.96 L400.69,55.95 L401.12,55.94 L401.56,55.94 L401.99,55.93 L402.42,55.92 L402.85,55.92 L403.28,55.91 L403.71,55.90 L404.14,55.90 L404.57,55.89 L405.00,55.88 L405.43,55.88 L405.87,55.87 L406.30,55.86 L406.73,55.86 L407.16,55.85 L407.59,55.84 L408.02,55.84 L408.45,55.83 L408.88,55.82 L409.31,55.82 L409.74,55.81 L410.18,55.80 L410.61,55.80 L411.04,55.79 L411.47,55.78 L411.90,55.77 L412.33,55.77 L412.76,55.76 L413.19,55.75 L413.62,55.75 L414.05,55.74 L414.49,55.73 L414.92,55.72 L415.35,55.72 L415.78,55.71 L416.21,55.70 L416.64,55.69 L417.07,55.68 L417.50,55.68 L417.93,55.67 L418.36,55.66"/><path d="M418.36,55.66 L418.79,55.65 L419.22,55.65 L419.65,55.64 L420.08,55.63 L420.51,55.62 L420.94,55.61 L421.37,55.61 L421.80,55.60 L422.23,55.59 L422.66,55.58 L423.09,55.57 L423.52,55.56 L423.95,55.55 L424.38,55.55 L424.81,55.54 L425.24,55.53 L425.66,55.52 L426.09,55.51 L426.52,55.50 L426.95,55.49 L427.38,55.48 L427.81,55.47 L428.24,55.47 L428.67,55.46 L429.10,55.45 L429.53,55.44 L429.96,55.43 L430.39,55.42 L430.82,55.41 L431.25,55.40 L431.68,55.39 L432.11,55.38 L432.54,55.37 L432.97,55.36 L433.39,55.35 L433.82,55.34 L434.25,55.33 L434.68,55.32 L435.11,55.31 L435.54,55.30 L435.97,55.29 L436.40,55.28 L436.83,55.27 L437.26,55.26 L437.69,55.25 L438.12,55.24 L438.55,55.23 L438.98,55.22 L439.41,55.21 L439.84,55.20 L440.27,55.19 L440.69,55.17 L441.12,55.16 L441.55,55.15 L441.98,55.14 L442.41,55.13 L442.84,55.12 L443.27,55.11 L443.70,55.10 L444.13,55.09 L444.56,55.08 L444.99,55.07 L445.42,55.06 L445.85,55.05 L446.28,55.04 L446.71,55.02 L447.14,55.01 L447.57,55.00 L448.00,54.99 L448.42,54.98 L448.85,54.97 L449.28,54.96 L449.71,54.95 L450.14,54.94 L450.57,54.93 L451.00,54.92 L451.43,54.91 L451.86,54.89 L452.29,54.88 L452.72,54.87 L453.15,54.86 L453.58,54.85 L454.01,54.84 L454.44,54.83 L454.87,54.82 L455.30,54.81 L455.73,54.80 L456.15,54.79 L456.58,54.78 L457.01,54.77 L457.44,54.76 L457.87,54.75 L458.30,54.73 L458.73,54.72 L459.16,54.71 L459.59,54.70 L460.02,54.69 L460.45,54.68 L460.88,54.67 L461.31,54.66 L461.74,54.65 L462.17,54.64 L462.60,54.63 L463.03,54.62 L463.45,54.61 L463.88,54.60 L464.31,54.59 L464.74,54.58 L465.17,54.57 L465.60,54.56 L466.03,54.55 L466.46,54.54 L466.89,54.53 L467.32,54.52 L467.75,54.51 L468.18,54.50 L468.61,54.49 L469.04,54.49 L469.47,54.48 L469.90,54.47 L470.33,54.46 L470.76,54.45 L471.18,54.44 L471.61,54.43 L472.04,54.42 L472.47,54.41 L472.90,54.40 L473.33,54.40 L473.76,54.39 L474.19,54.38 L474.62,54.37 L475.05,54.36 L475.48,54.35 L475.91,54.35 L476.34,54.34 L476.77,54.33 L477.20,54.32 L477.63,54.31 L478.06,54.31 L478.48,54.30 L478.91,54.29 L479.34,54.28 L479.77,54.27 L480.20,54.27 L480.63,54.26 L481.06,54.25 L481.49,54.24 L481.92,54.23 L482.35,54.23 L482.78,54.22 L483.21,54.21 L483.64,54.20 L484.07,54.20 L484.50,54.19 L484.93,54.18 L485.36,54.17 L485.79,54.16 L486.21,54.16 L486.64,54.15 L487.07,54.14 L487.50,54.13 L487.93,54.13 L488.36,54.12 L488.79,54.11 L489.22,54.10 L489.65,54.10 L490.08,54.09 L490.51,54.08 L490.94,54.07 L491.37,54.07 L491.80,54.06 L492.23,54.05 L492.66,54.04 L493.09,54.04 L493.52,54.03 L493.94,54.02 L494.37,54.01 L494.80,54.01 L495.23,54.00 L495.66,53.99 L496.09,53.98 L496.52,53.98 L496.95,53.97 L497.38,53.96 L497.81,53.96 L498.24,53.95 L498.67,53.94 L499.10,53.93 L499.53,53.93 L499.96,53.92 L500.39,53.91 L500.82,53.90 L501.24,53.90 L501.67,53.89 L502.10,53.88 L502.53,53.88 L502.96,53.87 L503.39,53.86 L503.82,53.85 L504.25,53.85 L504.68,53.84 L505.11,53.83 L505.54,53.83 L505.97,53.82 L506.40,53.81 L506.83,53.81 L507.26,53.80 L507.69,53.79 L508.12,53.78 L508.55,53.78 L508.97,53.77 L509.40,53.76 L509.83,53.76 L510.26,53.75 L510.69,53.74 L511.12,53.74 L511.55,53.73 L511.98,53.72 L512.41,53.72 L512.84,53.71 L513.27,53.70 L513.70,53.70 L514.13,53.69 L514.56,53.68 L514.99,53.68 L515.42,53.67 L515.85,53.66 L516.28,53.66 L516.70,53.65 L517.13,53.64 L517.56,53.64 L517.99,53.63 L518.42,53.62 L518.85,53.62 L519.28,53.61 L519.71,53.60 L520.14,53.60 L520.57,53.59 L521.00,53.58 L521.43,53.58 L521.86,53.57 L522.29,53.56 L522.72,53.56 L523.15,53.55 L523.58,53.54 L524.00,53.54 L524.43,53.53 L524.86,53.52 L525.29,53.52 L525.72,53.51 L526.15,53.50 L526.58,53.50 L527.01,53.49 L527.44,53.49 L527.87,53.48 L528.30,53.47 L528.73,53.47 L529.16,53.46 L529.59,53.45 L530.02,53.45 L530.45,53.44 L530.88,53.43 L531.31,53.43 L531.73,53.42 L532.16,53.42 L532.59,53.41 L533.02,53.40 L533.45,53.40 L533.88,53.39 L534.31,53.39 L534.74,53.38 L535.17,53.37 L535.60,53.37 L536.03,53.36 L536.46,53.35 L536.89,53.35 L537.32,53.34 L537.75,53.34 L538.18,53.33 L538.61,53.32 L539.04,53.32 L539.46,53.31 L539.89,53.31 L540.32,53.30 L540.75,53.29 L541.18,53.29 L541.61,53.28 L542.04,53.28 L542.47,53.27 L542.90,53.26 L543.33,53.26 L543.76,53.25 L544.19,53.25 L544.62,53.24 L545.05,53.23 L545.48,53.23 L545.91,53.22 L546.34,53.22 L546.76,53.21 L547.19,53.20 L547.62,53.20 L548.05,53.19 L548.48,53.19 L548.91,53.18 L549.34,53.18 L549.77,53.17 L550.20,53.16 L550.63,53.16 L551.06,53.15 L551.49,53.15 L551.92,53.14 L552.35,53.14 L552.78,53.13 L553.21,53.12 L553.64,53.12 L554.07,53.11 L554.49,53.11 L554.92,53.10 L555.35,53.10 L555.78,53.09 L556.21,53.08 L556.64,53.08 L557.07,53.07 L557.50,53.07 L557.93,53.06 L558.36,53.06 L558.79,53.05 L559.22,53.05 L559.65,53.04 L560.08,53.03 L560.51,53.03 L560.94,53.02 L561.37,53.02 L561.79,53.01 L562.22,53.01 L562.65,53.00 L563.08,53.00 L563.51,52.99 L563.94,52.98 L564.37,52.98 L564.80,52.97 L565.23,52.97 L565.66,52.96 L566.09,52.96 L566.52,52.95 L566.95,52.95 L567.38,52.94 L567.81,52.94 L568.24,52.93 L568.67,52.93 L569.10,52.92 L569.52,52.91 L569.95,52.91 L570.38,52.90 L570.81,52.90 L571.24,52.89 L571.67,52.89 L572.10,52.88 L572.53,52.88 L572.96,52.87 L573.39,52.87 L573.82,52.86 L574.25,52.86 L574.68,52.85 L575.11,52.85 L575.54,52.84 L575.97,52.84 L576.40,52.83 L576.83,52.82 L577.25,52.82 L577.68,52.81 L578.11,52.81 L578.54,52.80 L578.97,52.80 L579.40,52.79 L579.83,52.79 L580.26,52.78 L580.69,52.78 L581.12,52.77 L581.55,52.77 L581.98,52.76 L582.41,52.76 L582.84,52.75 L583.27,52.75 L583.70,52.74 L584.13,52.74 L584.55,52.73 L584.98,52.73 L585.41,52.72 L585.84,52.72 L586.27,52.71 L586.70,52.71 L587.13,52.70 L587.56,52.70 L587.99,52.69 L588.42,52.69 L588.85,52.68 L589.28,52.68 L589.71,52.67 L590.14,52.67 L590.57,52.66 L591.00,52.66 L591.43,52.65 L591.86,52.65 L592.28,52.64 L592.71,52.64 L593.14,52.63 L593.57,52.63 L594.00,52.63 L594.43,52.62 L594.86,52.62 L595.29,52.61 L595.72,52.61 L596.15,52.60 L596.58,52.60 L597.01,52.59 L597.44,52.59 L597.87,52.58 L598.30,52.58 L598.73,52.57 L599.16,52.57 L599.59,52.56 L600.01,52.56 L600.44,52.55 L600.87,52.55 L601.30,52.55 L601.73,52.54 L602.16,52.54 L602.59,52.53 L603.02,52.53 L603.45,52.52 L603.88,52.52 L604.31,52.51 L604.74,52.51 L605.17,52.50 L605.60,52.50 L606.03,52.50 L606.46,52.49 L606.89,52.49 L607.31,52.48 L607.74,52.48 L608.17,52.47 L608.60,52.47 L609.03,52.46 L609.46,52.46 L609.89,52.45 L610.32,52.45 L610.75,52.45 L611.18,52.44 L611.61,52.44 L612.04,52.43 L612.47,52.43 L612.90,52.42 L613.33,52.42 L613.76,52.41 L614.19,52.41 L614.62,52.41 L615.04,52.40 L615.47,52.40 L615.90,52.39 L616.33,52.39 L616.76,52.38 L617.19,52.38 L617.62,52.38 L618.05,52.37 L618.48,52.37 L618.91,52.36 L619.34,52.36 L619.77,52.35 L620.20,52.35 L620.63,52.35 L621.06,52.34 L621.49,52.34 L621.92,52.33 L622.34,52.33 L622.77,52.32 L623.20,52.32 L623.63,52.32 L624.06,52.31 L624.49,52.31 L624.92,52.30 L625.35,52.30 L625.78,52.29 L626.21,52.29 L626.64,52.29 L627.07,52.28 L627.50,52.28 L627.93,52.27 L628.36,52.27 L628.79,52.26 L629.22,52.26 L629.65,52.26 L630.07,52.25 L630.50,52.25 L630.93,52.24 L631.36,52.24 L631.79,52.24 L632.22,52.23 L632.65,52.23 L633.08,52.22 L633.51,52.22 L633.94,52.21 L634.37,52.21 L634.80,52.21 L635.23,52.20 L635.66,52.20 L636.09,52.19 L636.52,52.19 L636.95,52.19 L637.38,52.18 L637.80,52.18 L638.23,52.17 L638.66,52.17 L639.09,52.17 L639.52,52.16 L639.95,52.16 L640.38,52.15 L640.81,52.15 L641.24,52.15 L641.67,52.14 L642.10,52.14 L642.53,52.13 L642.96,52.13 L643.39,52.13 L643.82,52.12 L644.25,52.12 L644.68,52.11 L645.10,52.11 L645.53,52.11 L645.96,52.10 L646.39,52.10 L646.82,52.09 L647.25,52.09 L647.68,52.09 L648.11,52.08 L648.54,52.08 L648.97,52.07 L649.40,52.07 L649.83,52.07 L650.26,52.06 L650.69,52.06 L651.12,52.05 L651.55,52.05 L651.98,52.05 L652.41,52.04 L652.83,52.04 L653.26,52.03 L653.69,52.03 L654.12,52.03 L654.55,52.02 L654.98,52.02 L655.41,52.01 L655.84,52.01 L656.27,52.01 L656.70,52.00 L657.13,52.00 L657.56,51.99 L657.99,51.99 L658.42,51.99 L658.85,51.98 L659.28,51.98 L659.71,51.97 L660.14,51.97 L660.56,51.97 L660.99,51.96 L661.42,51.96 L661.85,51.95 L662.28,51.95 L662.71,51.95 L663.14,51.94 L663.57,51.94 L664.00,51.93 L664.43,51.93 L664.86,51.93 L665.29,51.92 L665.72,51.92 L666.15,51.91 L666.58,51.91 L667.01,51.91 L667.44,51.90 L667.86,51.90 L668.29,51.90 L668.72,51.89 L669.15,51.89 L669.58,51.88 L670.01,51.88 L670.44,51.88 L670.87,51.87 L671.30,51.87 L671.73,51.86 L672.16,51.86 L672.59,51.86 L673.02,51.85 L673.45,51.85 L673.88,51.84 L674.31,51.84 L674.74,51.84 L675.17,51.83 L675.59,51.83 L676.02,51.82 L676.45,51.82 L676.88,51.82 L677.31,51.81 L677.74,51.81 L678.17,51.80 L678.60,51.80 L679.03,51.80 L679.46,51.79 L679.89,51.79 L680.32,51.79 L680.75,51.78 L681.18,51.78 L681.61,51.77 L682.04,51.77 L682.47,51.77 L682.89,51.76 L683.32,51.76 L683.75,51.75 L684.18,51.75 L684.61,51.75 L685.04,51.74 L685.47,51.74 L685.90,51.73 L686.33,51.73 L686.76,51.73 L687.19,51.72 L687.62,51.72 L688.05,51.71 L688.48,51.71 L688.91,51.71 L689.34,51.70 L689.77,51.70 L690.20,51.69 L690.62,51.69 L691.05,51.69 L691.48,51.68 L691.91,51.68 L692.34,51.67 L692.77,51.67 L693.20,51.67 L693.63,51.66 L694.06,51.66 L694.49,51.66 L694.92,51.65 L695.35,51.65 L695.78,51.64 L696.21,51.64 L696.64,51.64 L697.07,51.63 L697.50,51.63 L697.93,51.62 L698.35,51.62 L698.78,51.62 L699.21,51.61 L699.64,51.61 L700.07,51.60 L700.50,51.60 L700.93,51.60 L701.36,51.59 L701.79,51.59 L702.22,51.59 L702.65,51.58 L703.08,51.58 L703.51,51.57 L703.94,51.57 L704.37,51.57 L704.80,51.56 L705.23,51.56 L705.65,51.55 L706.08,51.55 L706.51,51.55 L706.94,51.54 L707.37,51.54 L707.80,51.54 L708.23,51.53 L708.66,51.53 L709.09,51.52 L709.52,51.52 L709.95,51.52 L710.38,51.51 L710.81,51.51 L711.24,51.51 L711.67,51.50 L712.10,51.50 L712.53,51.49 L712.96,51.49 L713.38,51.49 L713.81,51.48 L714.24,51.48 L714.67,51.48 L715.10,51.47 L715.53,51.47 L715.96,51.46 L716.39,51.46 L716.82,51.46 L717.25,51.45 L717.68,51.45 L718.11,51.45 L718.54,51.44 L718.97,51.44 L719.40,51.44 L719.83,51.43 L720.26,51.43 L720.69,51.43 L721.11,51.42 L721.54,51.42 L721.97,51.41 L722.40,51.41 L722.83,51.41 L723.26,51.40 L723.69,51.40 L724.12,51.40 L724.55,51.39 L724.98,51.39 L725.41,51.39 L725.84,51.38 L726.27,51.38 L726.70,51.38 L727.13,51.37 L727.56,51.37 L727.99,51.37 L728.41,51.36 L728.84,51.36 L729.27,51.36 L729.70,51.35 L730.13,51.35 L730.56,51.35 L730.99,51.34 L731.42,51.34 L731.85,51.34 L732.28,51.33 L732.71,51.33 L733.14,51.33 L733.57,51.32 L734.00,51.32 L734.43,51.32 L734.86,51.31 L735.29,51.31 L735.72,51.31 L736.14,51.30 L736.57,51.30 L737.00,51.30 L737.43,51.29 L737.86,51.29 L738.29,51.29 L738.72,51.28 L739.15,51.28 L739.58,51.28 L740.01,51.28 L740.44,51.27 L740.87,51.27 L741.30,51.27 L741.73,51.26 L742.16,51.26 L742.59,51.26 L743.02,51.25 L743.45,51.25 L743.87,51.25 L744.30,51.24 L744.73,51.24 L745.16,51.24 L745.59,51.23 L746.02,51.23 L746.45,51.23 L746.88,51.23 L747.31,51.22 L747.74,51.22 L748.17,51.22 L748.60,51.21 L749.03,51.21 L749.46,51.21 L749.89,51.20 L750.32,51.20 L750.75,51.20 L751.17,51.20 L751.60,51.19 L752.03,51.19 L752.46,51.19 L752.89,51.18 L753.32,51.18 L753.75,51.18 L754.18,51.17 L754.61,51.17 L755.04,51.17 L755.47,51.17 L755.90,51.16 L756.33,51.16 L756.76,51.16 L757.19,51.15 L757.62,51.15 L758.05,51.15 L758.48,51.15 L758.90,51.14 L759.33,51.14 L759.76,51.14 L760.19,51.13 L760.62,51.13 L761.05,51.13 L761.48,51.13 L761.91,51.12 L762.34,51.12 L762.77,51.12 L763.20,51.11 L763.63,51.11 L764.06,51.11 L764.49,51.11 L764.92,51.10 L765.35,51.10 L765.78,51.10 L766.20,51.09 L766.63,51.09 L767.06,51.09 L767.49,51.09 L767.92,51.08 L768.35,51.08 L768.78,51.08 L769.21,51.08 L769.64,51.07 L770.07,51.07 L770.50,51.07 L770.93,51.06 L771.36,51.06 L771.79,51.06 L772.22,51.06 L772.65,51.05 L773.08,51.05 L773.51,51.05 L773.93,51.05 L774.36,51.04 L774.79,51.04 L775.22,51.04 L775.65,51.04 L776.08,51.03 L776.51,51.03 L776.94,51.03 L777.37,51.03 L777.80,51.02 L778.23,51.02 L778.66,51.02 L779.09,51.02 L779.52,51.01 L779.95,51.01 L780.38,51.01 L780.81,51.00 L781.24,51.00 L781.66,51.00 L782.09,51.00 L782.52,50.99 L782.95,50.99 L783.38,50.99 L783.81,50.99 L784.24,50.99 L784.67,50.98 L785.10,50.98"/></g>
<line x1="116.3" y1="378.8" x2="116.45" y2="372.0" stroke="#ff0000" stroke-width="3.65"/>
<path d="M116.29,372.12 L116.38,335.47 L116.46,300.01 L116.55,266.57 L116.64,236.02 L116.72,209.21 L116.81,186.97 L116.89,170.17 L116.98,157.15 L117.07,145.19 L117.15,134.25 L117.24,124.30 L117.32,115.31 L117.41,107.26 L117.50,100.11 L117.58,93.83 L117.67,88.41 L117.76,83.80 L117.84,79.88 L117.93,76.19 L118.01,72.70 L118.10,69.47 L118.19,66.55 L118.27,63.98 L118.36,61.80 L118.44,60.07 L118.53,58.82 L118.62,58.11 L118.70,57.62 L118.79,57.17 L118.87,56.75 L118.96,56.37 L119.05,56.02 L119.13,55.70 L119.22,55.41 L119.31,55.15 L119.39,54.91 L119.48,54.69 L119.56,54.50 L119.65,54.32 L119.74,54.16 L119.82,54.01 L119.91,53.88 L119.99,53.76 L120.08,53.64 L120.17,53.53 L120.25,53.42 L120.34,53.32 L120.43,53.22 L120.51,53.12 L120.60,53.03 L120.68,52.93 L120.77,52.84 L120.86,52.76 L120.94,52.67 L121.03,52.59 L121.11,52.52 L121.20,52.44 L121.29,52.37 L121.37,52.30 L121.46,52.23 L121.54,52.16 L121.63,52.11 L121.72,52.04 L121.80,52.06 L121.89,51.98 L121.98,51.84 L122.06,51.91 L122.15,51.73 L122.23,51.86 L122.32,51.79 L122.41,51.78 L122.49,51.62 L122.58,51.52 L122.66,51.69 L122.75,51.54 L122.84,51.23 L122.92,51.50 L123.01,51.55 L123.10,51.32 L123.18,51.40 L123.27,51.47 L123.35,51.67 L123.44,51.10 L123.53,51.37 L123.61,51.22 L123.70,51.45 L123.78,50.83 L123.87,50.94 L123.96,50.84 L124.04,51.11 L124.13,50.91 L124.21,50.75 L124.30,50.68 L124.39,50.86 L124.47,50.95 L124.56,51.02 L124.65,51.13 L124.73,51.18 L124.82,50.69 L124.90,50.88 L124.99,51.51 L125.08,50.79 L125.16,50.27 L125.25,50.78 L125.33,51.41 L125.42,50.66 L125.51,50.24 L125.59,50.47 L125.68,50.73 L125.76,49.67 L125.85,49.62 L125.94,50.54 L126.02,50.08 L126.11,50.26 L126.20,50.05 L126.28,49.68 L126.37,49.99 L126.45,50.35 L126.54,50.74 L127.05,50.79 L128.19,50.22 L129.32,49.46 L130.45,50.09 L131.58,50.33 L132.71,50.41 L133.85,50.80 L134.98,50.60 L136.11,51.33 L137.24,51.52 L138.37,50.14 L139.51,50.23 L140.64,48.05 L141.77,49.27 L142.90,49.57 L144.03,50.64 L145.16,49.49 L146.30,50.13 L147.43,48.93 L148.56,48.76 L149.69,49.46 L150.82,48.65 L151.96,50.92 L153.09,49.81 L154.22,48.48 L155.35,48.62 L156.48,48.87 L157.62,48.95 L158.75,49.80 L159.88,49.80 L161.01,49.00 L162.14,48.23 L163.28,50.73 L164.41,48.70 L165.54,48.47 L166.67,47.96 L167.80,48.90 L168.93,48.69 L170.07,48.56 L171.20,49.41 L172.33,49.55 L173.46,49.17 L174.59,48.49 L175.73,48.18 L176.86,48.47 L177.99,48.43 L179.12,48.76 L180.25,48.62 L181.39,47.26 L182.52,47.89 L183.65,47.77 L184.78,47.20 L185.91,47.29 L187.05,47.56 L188.18,48.07 L189.31,48.23 L190.44,47.88 L191.57,47.84 L192.70,46.94 L193.84,47.62 L194.97,47.48 L196.10,47.99 L197.23,47.10 L198.36,49.32 L199.50,47.72 L200.63,47.40 L201.76,48.55 L202.89,46.32 L204.02,47.78 L205.16,47.74 L206.29,48.32 L207.42,47.06 L208.55,47.50 L209.68,47.94 L210.82,47.27 L211.95,46.84 L213.08,46.42 L214.21,47.00 L215.34,47.72 L216.47,47.42 L217.61,48.37 L218.74,47.04 L219.87,46.16 L221.00,46.67 L222.13,47.12 L223.27,47.22 L224.40,45.95 L225.53,47.08 L226.66,46.97 L227.79,47.43 L228.93,47.99 L230.06,46.40 L231.19,48.15 L232.32,48.09 L233.45,47.55 L234.58,47.71 L235.72,47.57 L236.85,47.61 L237.98,46.82 L239.11,47.67 L240.24,47.43 L241.38,48.30 L242.51,47.43 L243.64,46.30 L244.77,48.10 L245.90,46.87 L247.04,48.18 L248.17,47.18 L249.30,47.82 L250.43,47.09 L251.56,47.76 L252.70,47.30 L253.83,46.00 L254.96,47.30 L256.09,45.89 L257.22,47.72 L258.35,48.37 L259.49,47.54 L260.62,47.84 L261.75,46.39 L262.88,46.87 L264.01,46.56 L265.15,46.87 L266.28,45.65 L267.41,46.71 L268.54,46.81 L269.67,47.53 L270.81,47.50 L271.94,47.03 L273.07,46.71 L274.20,46.75 L275.33,48.16 L276.47,47.28 L277.60,47.57 L278.73,48.50 L279.86,47.51 L280.99,48.98 L282.12,46.98 L283.26,45.39 L284.39,48.02 L285.52,47.70 L286.65,48.97 L287.78,48.00 L288.92,46.79 L290.05,47.95 L291.18,47.35 L292.31,47.60 L293.44,47.56 L294.58,47.14 L295.71,46.90 L296.84,46.40 L297.97,46.64 L299.10,47.51 L300.24,46.18 L301.37,46.25 L302.50,48.22 L303.63,46.93 L304.76,46.95 L305.89,46.81 L307.03,47.03 L308.16,48.33 L309.29,47.92 L310.42,49.36 L311.55,48.03 L312.69,46.38 L313.82,47.04 L314.95,47.05 L316.08,48.03 L317.21,48.42 L318.35,48.37 L319.48,47.51 L320.61,47.98 L321.74,47.70 L322.87,46.39 L324.01,48.30 L325.14,48.22 L326.27,47.80 L327.40,47.43 L328.53,47.34 L329.66,48.14 L330.80,47.26 L331.93,47.61 L333.06,47.31 L334.19,48.18 L335.32,47.25 L336.46,47.34 L337.59,48.01 L338.72,47.84 L339.85,48.31 L340.98,47.30 L342.12,50.26 L343.25,48.96 L344.38,48.92 L345.51,47.97 L346.64,48.11 L347.77,47.89 L348.91,47.11 L350.04,48.59 L351.17,48.05 L352.30,47.66 L353.43,48.32 L354.57,47.31 L355.70,47.35 L356.83,48.05 L357.96,48.64 L359.09,46.33 L360.23,46.95 L361.36,47.02 L362.49,47.29 L363.62,47.41 L364.75,46.98 L365.89,47.64 L367.02,47.99 L368.15,46.98 L369.28,47.26 L370.41,48.08 L371.54,48.53 L372.68,47.50 L373.81,47.69 L374.94,46.53 L376.07,47.99 L377.20,48.10 L378.34,47.34 L379.47,46.58 L380.60,46.93 L381.73,46.87 L382.86,46.13 L384.00,48.05 L385.13,48.56 L386.26,48.34 L387.39,48.16 L388.52,47.66 L389.66,47.05 L390.79,47.26 L391.92,46.36 L393.05,47.72 L394.18,45.81 L395.31,47.79 L396.45,46.71 L397.58,48.22 L398.71,47.37 L399.84,47.55 L400.97,47.24 L402.11,47.10 L403.24,47.74 L404.37,47.62 L405.50,47.39 L406.63,48.35 L407.77,47.83 L408.90,48.27 L410.03,47.10 L411.16,45.58 L412.29,46.47 L413.43,47.61 L414.56,47.68 L415.69,46.75 L416.82,47.76 L417.95,48.56 L419.08,48.16 L420.22,47.96 L421.35,47.71 L422.48,46.57 L423.61,46.92 L424.74,47.81 L425.88,47.41 L427.01,48.13 L428.14,48.27 L429.27,48.52 L430.40,46.45 L431.54,47.82 L432.67,47.23 L433.80,47.04 L434.93,47.81 L436.06,47.15 L437.20,47.08 L438.33,47.33 L439.46,46.12 L440.59,47.38 L441.72,47.63 L442.85,46.98 L443.99,46.22 L445.12,46.76 L446.25,47.75 L447.38,47.97 L448.51,47.96 L449.65,47.73 L450.78,47.16 L451.91,46.96 L453.04,49.06 L454.17,47.57 L455.31,48.25 L456.44,47.05 L457.57,46.85 L458.70,47.90 L459.83,47.69 L460.96,48.03 L462.10,47.17 L463.23,48.47 L464.36,48.15 L465.49,47.81 L466.62,46.44 L467.76,45.56 L468.89,47.22 L470.02,48.29 L471.15,47.69 L472.28,48.41 L473.42,47.65 L474.55,48.77 L475.68,48.17 L476.81,47.68 L477.94,47.02 L479.08,47.40 L480.21,46.62 L481.34,47.25 L482.47,48.32 L483.60,46.35 L484.73,47.29 L485.87,47.69 L487.00,46.41 L488.13,48.14 L489.26,47.56 L490.39,47.90 L491.53,46.16 L492.66,46.88 L493.79,46.57 L494.92,47.81 L496.05,46.14 L497.19,47.85 L498.32,46.64 L499.45,46.56 L500.58,46.50 L501.71,46.14 L502.85,47.98 L503.98,46.78 L505.11,46.79 L506.24,46.70 L507.37,46.38 L508.50,47.10 L509.64,47.56 L510.77,46.96 L511.90,45.77 L513.03,47.43 L514.16,46.51 L515.30,47.37 L516.43,46.29 L517.56,48.36 L518.69,47.38 L519.82,47.11 L520.96,46.83 L522.09,45.27 L523.22,45.69 L524.35,47.25 L525.48,44.92 L526.62,46.42 L527.75,46.31 L528.88,46.60 L530.01,46.22 L531.14,46.33 L532.27,48.29 L533.41,46.59 L534.54,46.84 L535.67,46.00 L536.80,46.77 L537.93,46.15 L539.07,46.59 L540.20,47.73 L541.33,46.01 L542.46,46.80 L543.59,46.42 L544.73,46.02 L545.86,47.54 L546.99,47.14 L548.12,47.80 L549.25,47.60 L550.39,46.36 L551.52,45.86 L552.65,45.44 L553.78,45.63 L554.91,46.75 L556.04,47.41 L557.18,44.91 L558.31,45.71 L559.44,47.28 L560.57,47.92 L561.70,47.68 L562.84,47.30 L563.97,46.81 L565.10,46.75 L566.23,46.94 L567.36,47.28 L568.50,46.98 L569.63,47.27 L570.76,47.09 L571.89,47.34 L573.02,47.06 L574.15,48.63 L575.29,47.61 L576.42,47.54 L577.55,48.02 L578.68,47.34 L579.81,47.90 L580.95,47.69 L582.08,47.50 L583.21,47.63 L584.34,48.04 L585.47,47.14 L586.61,47.44 L587.74,47.06 L588.87,46.92 L590.00,47.54 L591.13,47.71 L592.27,46.57 L593.40,47.28 L594.53,48.13 L595.66,48.52 L596.79,47.09 L597.92,47.87 L599.06,47.57 L600.19,48.02 L601.32,47.97 L602.45,47.70 L603.58,48.28 L604.72,47.31 L605.85,46.47 L606.98,46.46 L608.11,47.83 L609.24,47.35 L610.38,47.15 L611.51,46.40 L612.64,45.63 L613.77,46.05 L614.90,47.62 L616.04,46.66 L617.17,46.36 L618.30,47.36 L619.43,46.01 L620.56,47.54 L621.69,46.21 L622.83,45.32 L623.96,47.58 L625.09,46.86 L626.22,46.23 L627.35,44.51 L628.49,47.73 L629.62,46.10 L630.75,46.20 L631.88,46.80 L633.01,47.06 L634.15,46.75 L635.28,46.61 L636.41,47.50 L637.54,45.90 L638.67,47.84 L639.81,47.54 L640.94,47.84 L642.07,47.57 L643.20,47.10 L644.33,47.54 L645.46,47.24 L646.60,46.01 L647.73,46.29 L648.86,46.79 L649.99,45.63 L651.12,46.83 L652.26,46.46 L653.39,47.82 L654.52,47.78 L655.65,47.75 L656.78,46.43 L657.92,46.86 L659.05,46.43 L660.18,46.57 L661.31,46.39 L662.44,46.32 L663.58,46.18 L664.71,46.69 L665.84,47.49 L666.97,47.40 L668.10,46.09 L669.23,45.92 L670.37,46.39 L671.50,47.73 L672.63,45.65 L673.76,46.52 L674.89,46.84 L676.03,46.92 L677.16,47.31 L678.29,46.01 L679.42,45.92 L680.55,47.53 L681.69,46.81 L682.82,46.45 L683.95,45.84 L685.08,48.31 L686.21,46.19 L687.34,45.77 L688.48,47.01 L689.61,46.76 L690.74,45.88 L691.87,46.47 L693.00,47.61 L694.14,47.56 L695.27,47.56 L696.40,47.90 L697.53,46.98 L698.66,47.29 L699.80,46.90 L700.93,46.37 L702.06,45.57 L703.19,46.58 L704.32,48.05 L705.46,46.05 L706.59,46.95 L707.72,45.91 L708.85,46.76 L709.98,46.23 L711.11,46.50 L712.25,46.48 L713.38,45.99 L714.51,47.60 L715.64,47.16 L716.77,46.89 L717.91,47.05 L719.04,48.22 L720.17,46.63 L721.30,48.77 L722.43,47.88 L723.57,47.18 L724.70,46.56 L725.83,46.18 L726.96,46.11 L728.09,46.24 L729.23,46.90 L730.36,45.88 L731.49,46.56 L732.62,44.70 L733.75,46.21 L734.88,46.21 L736.02,46.74 L737.15,46.53 L738.28,48.09 L739.41,46.00 L740.54,45.97 L741.68,46.23 L742.81,47.21 L743.94,45.89 L745.07,47.15 L746.20,46.13 L747.34,46.55 L748.47,46.32 L749.60,46.51 L750.73,46.86 L751.86,46.57 L753.00,46.14 L754.13,45.67 L755.26,45.54 L756.39,45.96 L757.52,46.36 L758.65,45.64 L759.79,46.88 L760.92,46.82 L762.05,46.52 L763.18,48.07 L764.31,47.57 L765.45,47.33 L766.58,47.72 L767.71,47.19 L768.84,46.23 L769.97,46.69 L771.11,46.44 L772.24,45.90 L773.37,47.06 L774.50,47.37 L775.63,46.57 L776.77,46.17 L777.90,47.82 L779.03,46.43 L780.16,47.24 L781.29,47.28 L782.42,47.54 L783.56,47.10 L784.69,46.37" fill="none" stroke="#0000ff" stroke-width="2.40" stroke-linejoin="round"/>
<rect x="112.00" y="355.10" width="10.00" height="10.00" fill="none" stroke="#ff0000" stroke-width="2.4"/><rect x="162.70" y="87.01" width="10.00" height="10.00" fill="none" stroke="#ff0000" stroke-width="2.4"/><rect x="214.15" y="53.18" width="10.00" height="10.00" fill="none" stroke="#ff0000" stroke-width="2.4"/><rect x="265.60" y="49.59" width="10.00" height="10.00" fill="none" stroke="#ff0000" stroke-width="2.4"/><rect x="317.05" y="49.40" width="10.00" height="10.00" fill="none" stroke="#ff0000" stroke-width="2.4"/><rect x="368.50" y="48.66" width="10.00" height="10.00" fill="none" stroke="#ff0000" stroke-width="2.4"/><rect x="419.95" y="47.57" width="10.00" height="10.00" fill="none" stroke="#ff0000" stroke-width="2.4"/><rect x="471.40" y="46.60" width="10.00" height="10.00" fill="none" stroke="#ff0000" stroke-width="2.4"/><rect x="522.85" y="49.37" width="10.00" height="10.00" fill="none" stroke="#ff0000" stroke-width="2.4"/><rect x="574.30" y="47.79" width="10.00" height="10.00" fill="none" stroke="#ff0000" stroke-width="2.4"/><rect x="625.75" y="46.78" width="10.00" height="10.00" fill="none" stroke="#ff0000" stroke-width="2.4"/><rect x="677.20" y="47.45" width="10.00" height="10.00" fill="none" stroke="#ff0000" stroke-width="2.4"/><rect x="728.65" y="46.77" width="10.00" height="10.00" fill="none" stroke="#ff0000" stroke-width="2.4"/><circle cx="116.90" cy="169.50" r="4.85" fill="none" stroke="#0000ff" stroke-width="2.4"/><circle cx="167.70" cy="48.90" r="4.85" fill="none" stroke="#0000ff" stroke-width="2.4"/><circle cx="219.15" cy="47.04" r="4.85" fill="none" stroke="#0000ff" stroke-width="2.4"/><circle cx="270.60" cy="47.50" r="4.85" fill="none" stroke="#0000ff" stroke-width="2.4"/><circle cx="322.05" cy="47.70" r="4.85" fill="none" stroke="#0000ff" stroke-width="2.4"/><circle cx="373.50" cy="47.69" r="4.85" fill="none" stroke="#0000ff" stroke-width="2.4"/><circle cx="424.95" cy="47.81" r="4.85" fill="none" stroke="#0000ff" stroke-width="2.4"/><circle cx="476.40" cy="47.68" r="4.85" fill="none" stroke="#0000ff" stroke-width="2.4"/><circle cx="527.85" cy="46.31" r="4.85" fill="none" stroke="#0000ff" stroke-width="2.4"/><circle cx="579.30" cy="47.90" r="4.85" fill="none" stroke="#0000ff" stroke-width="2.4"/><circle cx="630.75" cy="46.20" r="4.85" fill="none" stroke="#0000ff" stroke-width="2.4"/><circle cx="682.20" cy="46.81" r="4.85" fill="none" stroke="#0000ff" stroke-width="2.4"/><circle cx="733.65" cy="46.21" r="4.85" fill="none" stroke="#0000ff" stroke-width="2.4"/>
<rect x="111.10" y="8.90" width="674.10" height="383.40" fill="none" stroke="#000" stroke-width="1.50"/>
<text x="263.1" y="190.60" font-family="'Liberation Sans', sans-serif" font-weight="700" font-size="24.25" fill="#000">QSS phase</text><line x1="275.8" y1="200.50" x2="366" y2="200.50" stroke="#000" stroke-width="2.40"/><polygon points="364.9,196.00 378.9,200.50 364.9,205.00" fill="#000" stroke="#000" stroke-width="1.2" stroke-linejoin="round"/>
<text x="309.0" y="343.9" font-family="'Liberation Sans', sans-serif" font-weight="700" font-size="24.25" fill="#000">DMS: T<tspan font-size="19.4" dy="6.9">v,</tspan><tspan font-size="19.4" dx="5.9">N</tspan><tspan font-size="15.5" dy="5.7">2</tspan></text>
<text x="381.2" y="374.0" font-family="'Liberation Sans', sans-serif" font-weight="700" font-size="24.25" fill="#000">T<tspan font-size="19.4" dy="6.9">r,</tspan><tspan font-size="19.4" dx="5.5">N</tspan><tspan font-size="15.5" dy="5.7">2</tspan></text>
<text x="522.3" y="343.9" font-family="'Liberation Sans', sans-serif" font-weight="700" font-size="24.25" fill="#000">CFD-MMT: T<tspan font-size="19.4" dy="6.9">v</tspan></text>
<line x1="451" y1="340.1" x2="516.4" y2="340.1" stroke="#ff0000" stroke-width="2.40"/>
<rect x="478.70" y="335.10" width="10.00" height="10.00" fill="none" stroke="#ff0000" stroke-width="2.4"/>
<line x1="451" y1="370.3" x2="516.4" y2="370.3" stroke="#0000ff" stroke-width="2.40"/>
<circle cx="483.80" cy="370.30" r="4.85" fill="none" stroke="#0000ff" stroke-width="2.4"/>
<line x1="690.9" y1="340.0" x2="756" y2="340.0" stroke="#ff0000" stroke-width="3.65" stroke-dasharray="7.00 9.50"/>
<text x="97.1" y="397.00" text-anchor="end" font-family="'Liberation Sans', sans-serif" font-weight="700" font-size="24.25" fill="#000">0</text>
<text x="97.1" y="328.51" text-anchor="end" font-family="'Liberation Sans', sans-serif" font-weight="700" font-size="24.25" fill="#000">2000</text>
<text x="97.1" y="260.02" text-anchor="end" font-family="'Liberation Sans', sans-serif" font-weight="700" font-size="24.25" fill="#000">4000</text>
<text x="97.1" y="191.54" text-anchor="end" font-family="'Liberation Sans', sans-serif" font-weight="700" font-size="24.25" fill="#000">6000</text>
<text x="97.1" y="123.05" text-anchor="end" font-family="'Liberation Sans', sans-serif" font-weight="700" font-size="24.25" fill="#000">8000</text>
<text x="97.1" y="54.56" text-anchor="end" font-family="'Liberation Sans', sans-serif" font-weight="700" font-size="24.25" fill="#000">10000</text>
<text transform="translate(21.7,201) rotate(-90)" text-anchor="middle" font-family="'Liberation Sans', sans-serif" font-weight="700" font-size="24.25" fill="#000">temperature [K]</text>
<!-- bottom plot -->
<g stroke="#000" stroke-width="0.80" fill="none"><line x1="116.25" y1="401.25" x2="116.25" y2="407.95"/><line x1="116.25" y1="784.45" x2="116.25" y2="777.75"/><line x1="167.70" y1="401.25" x2="167.70" y2="404.75"/><line x1="167.70" y1="784.45" x2="167.70" y2="780.95"/><line x1="219.15" y1="401.25" x2="219.15" y2="407.95"/><line x1="219.15" y1="784.45" x2="219.15" y2="777.75"/><line x1="270.60" y1="401.25" x2="270.60" y2="404.75"/><line x1="270.60" y1="784.45" x2="270.60" y2="780.95"/><line x1="322.05" y1="401.25" x2="322.05" y2="407.95"/><line x1="322.05" y1="784.45" x2="322.05" y2="777.75"/><line x1="373.50" y1="401.25" x2="373.50" y2="404.75"/><line x1="373.50" y1="784.45" x2="373.50" y2="780.95"/><line x1="424.95" y1="401.25" x2="424.95" y2="407.95"/><line x1="424.95" y1="784.45" x2="424.95" y2="777.75"/><line x1="476.40" y1="401.25" x2="476.40" y2="404.75"/><line x1="476.40" y1="784.45" x2="476.40" y2="780.95"/><line x1="527.85" y1="401.25" x2="527.85" y2="407.95"/><line x1="527.85" y1="784.45" x2="527.85" y2="777.75"/><line x1="579.30" y1="401.25" x2="579.30" y2="404.75"/><line x1="579.30" y1="784.45" x2="579.30" y2="780.95"/><line x1="630.75" y1="401.25" x2="630.75" y2="407.95"/><line x1="630.75" y1="784.45" x2="630.75" y2="777.75"/><line x1="682.20" y1="401.25" x2="682.20" y2="404.75"/><line x1="682.20" y1="784.45" x2="682.20" y2="780.95"/><line x1="733.65" y1="401.25" x2="733.65" y2="407.95"/><line x1="733.65" y1="784.45" x2="733.65" y2="777.75"/><line x1="111.10" y1="767.20" x2="117.80" y2="767.20"/><line x1="785.20" y1="767.20" x2="778.50" y2="767.20"/><line x1="111.10" y1="697.48" x2="117.80" y2="697.48"/><line x1="785.20" y1="697.48" x2="778.50" y2="697.48"/><line x1="111.10" y1="627.76" x2="117.80" y2="627.76"/><line x1="785.20" y1="627.76" x2="778.50" y2="627.76"/><line x1="111.10" y1="558.04" x2="117.80" y2="558.04"/><line x1="785.20" y1="558.04" x2="778.50" y2="558.04"/><line x1="111.10" y1="488.32" x2="117.80" y2="488.32"/><line x1="785.20" y1="488.32" x2="778.50" y2="488.32"/><line x1="111.10" y1="418.60" x2="117.80" y2="418.60"/><line x1="785.20" y1="418.60" x2="778.50" y2="418.60"/><line x1="111.10" y1="732.34" x2="114.60" y2="732.34"/><line x1="785.20" y1="732.34" x2="781.70" y2="732.34"/><line x1="111.10" y1="662.62" x2="114.60" y2="662.62"/><line x1="785.20" y1="662.62" x2="781.70" y2="662.62"/><line x1="111.10" y1="592.90" x2="114.60" y2="592.90"/><line x1="785.20" y1="592.90" x2="781.70" y2="592.90"/><line x1="111.10" y1="523.18" x2="114.60" y2="523.18"/><line x1="785.20" y1="523.18" x2="781.70" y2="523.18"/><line x1="111.10" y1="453.46" x2="114.60" y2="453.46"/><line x1="785.20" y1="453.46" x2="781.70" y2="453.46"/></g>
<g stroke="#000" stroke-width="1.3" fill="none"><line x1="270.55" y1="421.70" x2="270.55" y2="426.00"/><line x1="270.55" y1="432.73" x2="270.55" y2="437.03"/><line x1="270.55" y1="443.76" x2="270.55" y2="448.06"/><line x1="270.55" y1="454.79" x2="270.55" y2="459.09"/><line x1="270.55" y1="465.82" x2="270.55" y2="470.12"/><line x1="270.55" y1="476.85" x2="270.55" y2="481.15"/><line x1="270.55" y1="487.88" x2="270.55" y2="492.18"/><line x1="270.55" y1="498.91" x2="270.55" y2="503.21"/><line x1="270.55" y1="509.94" x2="270.55" y2="514.24"/><line x1="270.55" y1="520.97" x2="270.55" y2="525.27"/><line x1="270.55" y1="532.00" x2="270.55" y2="536.30"/><line x1="270.55" y1="543.03" x2="270.55" y2="547.33"/><line x1="270.55" y1="554.06" x2="270.55" y2="558.36"/><line x1="270.55" y1="565.09" x2="270.55" y2="569.39"/><line x1="270.55" y1="576.12" x2="270.55" y2="580.42"/><line x1="270.55" y1="587.15" x2="270.55" y2="591.45"/><line x1="270.55" y1="598.18" x2="270.55" y2="602.48"/><line x1="270.55" y1="609.21" x2="270.55" y2="613.51"/><line x1="270.55" y1="620.24" x2="270.55" y2="624.54"/><line x1="270.55" y1="631.27" x2="270.55" y2="635.57"/><line x1="270.55" y1="642.30" x2="270.55" y2="646.60"/><line x1="270.55" y1="653.33" x2="270.55" y2="657.63"/><line x1="270.55" y1="664.36" x2="270.55" y2="668.66"/><line x1="270.55" y1="675.39" x2="270.55" y2="679.69"/><line x1="270.55" y1="686.42" x2="270.55" y2="690.72"/><line x1="270.55" y1="697.45" x2="270.55" y2="701.75"/><line x1="270.55" y1="708.48" x2="270.55" y2="712.78"/><line x1="270.55" y1="719.51" x2="270.55" y2="723.81"/><line x1="270.55" y1="730.54" x2="270.55" y2="734.84"/><line x1="270.55" y1="741.57" x2="270.55" y2="745.87"/><line x1="270.55" y1="752.60" x2="270.55" y2="756.90"/><line x1="270.55" y1="763.63" x2="270.55" y2="767.93"/></g>
<path d="M116.25,418.60 L117.93,418.61 L119.60,418.62 L121.28,418.64 L122.96,418.67 L124.63,418.70 L126.31,418.74 L127.98,418.78 L129.66,418.82 L131.34,418.88 L133.01,418.94 L134.69,419.02 L136.37,419.11 L138.04,419.20 L139.72,419.30 L141.39,419.40 L143.07,419.51 L144.75,419.62 L146.42,419.75 L148.10,419.89 L149.78,420.03 L151.45,420.19 L153.13,420.35 L154.81,420.51 L156.48,420.69 L158.16,420.89 L159.83,421.10 L161.51,421.31 L163.19,421.54 L164.86,421.78 L166.54,422.02 L168.22,422.27 L169.89,422.52 L171.57,422.78 L173.24,423.05 L174.92,423.32 L176.60,423.60 L178.27,423.89 L179.95,424.18 L181.63,424.48 L183.30,424.78 L184.98,425.09 L186.66,425.40 L188.33,425.71 L190.01,426.03 L191.68,426.35 L193.36,426.68 L195.04,427.00 L196.71,427.34 L198.39,427.69 L200.07,428.04 L201.74,428.39 L203.42,428.76 L205.09,429.12 L206.77,429.49 L208.45,429.87 L210.12,430.25 L211.80,430.63 L213.48,431.01 L215.15,431.39 L216.83,431.77 L218.51,432.15 L220.18,432.53 L221.86,432.92 L223.53,433.31 L225.21,433.69 L226.89,434.09 L228.56,434.48 L230.24,434.87 L231.92,435.27 L233.59,435.67 L235.27,436.07 L236.94,436.48 L238.62,436.88 L240.30,437.29 L241.97,437.69 L243.65,438.10 L245.33,438.51 L247.00,438.92 L248.68,439.34 L250.36,439.75 L252.03,440.17 L253.71,440.59 L255.38,441.01 L257.06,441.44 L258.74,441.86 L260.41,442.29 L262.09,442.71 L263.77,443.14 L265.44,443.57 L267.12,444.00 L268.79,444.42 L270.47,444.85 L272.15,445.28 L273.82,445.71 L275.50,446.14 L277.18,446.56 L278.85,446.99 L280.53,447.42 L282.21,447.85 L283.88,448.28 L285.56,448.71 L287.23,449.14 L288.91,449.57 L290.59,450.00 L292.26,450.43 L293.94,450.87 L295.62,451.30 L297.29,451.73 L298.97,452.17 L300.64,452.60 L302.32,453.03 L304.00,453.47 L305.67,453.91 L307.35,454.34 L309.03,454.78 L310.70,455.22 L312.38,455.66 L314.06,456.10 L315.73,456.54 L317.41,456.98 L319.08,457.42 L320.76,457.86 L322.44,458.30 L324.11,458.75 L325.79,459.19 L327.47,459.64 L329.14,460.09 L330.82,460.54 L332.49,460.98 L334.17,461.43 L335.85,461.89 L337.52,462.34 L339.20,462.79 L340.88,463.24 L342.55,463.70 L344.23,464.15 L345.91,464.61 L347.58,465.06 L349.26,465.52 L350.93,465.97 L352.61,466.43 L354.29,466.88 L355.96,467.34 L357.64,467.80 L359.32,468.25 L360.99,468.71 L362.67,469.17 L364.34,469.62 L366.02,470.08 L367.70,470.53 L369.37,470.99 L371.05,471.45 L372.73,471.90 L374.40,472.35 L376.08,472.81 L377.76,473.26 L379.43,473.72 L381.11,474.17 L382.78,474.63 L384.46,475.08 L386.14,475.54 L387.81,475.99 L389.49,476.45 L391.17,476.90 L392.84,477.36 L394.52,477.81 L396.19,478.27 L397.87,478.72 L399.55,479.18 L401.22,479.63 L402.90,480.09 L404.58,480.54 L406.25,481.00 L407.93,481.45 L409.61,481.91 L411.28,482.37 L412.96,482.82 L414.63,483.28 L416.31,483.73 L417.99,484.19 L419.66,484.65 L421.34,485.10 L423.02,485.56 L424.69,486.02 L426.37,486.48 L428.04,486.93 L429.72,487.39 L431.40,487.85 L433.07,488.31 L434.75,488.76 L436.43,489.22 L438.10,489.68 L439.78,490.14 L441.46,490.60 L443.13,491.06 L444.81,491.52 L446.48,491.98 L448.16,492.44 L449.84,492.89 L451.51,493.35 L453.19,493.81 L454.87,494.27 L456.54,494.73 L458.22,495.19 L459.89,495.65 L461.57,496.11 L463.25,496.57 L464.92,497.03 L466.60,497.49 L468.28,497.95 L469.95,498.41 L471.63,498.87 L473.31,499.33 L474.98,499.78 L476.66,500.24 L478.33,500.70 L480.01,501.16 L481.69,501.62 L483.36,502.08 L485.04,502.54 L486.72,503.00 L488.39,503.46 L490.07,503.92 L491.74,504.38 L493.42,504.84 L495.10,505.31 L496.77,505.77 L498.45,506.23 L500.13,506.69 L501.80,507.15 L503.48,507.61 L505.16,508.07 L506.83,508.53 L508.51,508.99 L510.18,509.45 L511.86,509.91 L513.54,510.36 L515.21,510.82 L516.89,511.28 L518.57,511.74 L520.24,512.19 L521.92,512.65 L523.59,513.10 L525.27,513.56 L526.95,514.01 L528.62,514.46 L530.30,514.92 L531.98,515.37 L533.65,515.82 L535.33,516.27 L537.01,516.72 L538.68,517.17 L540.36,517.62 L542.03,518.07 L543.71,518.52 L545.39,518.96 L547.06,519.41 L548.74,519.86 L550.42,520.30 L552.09,520.75 L553.77,521.20 L555.44,521.64 L557.12,522.09 L558.80,522.53 L560.47,522.98 L562.15,523.43 L563.83,523.87 L565.50,524.32 L567.18,524.76 L568.86,525.21 L570.53,525.65 L572.21,526.10 L573.88,526.55 L575.56,526.99 L577.24,527.44 L578.91,527.89 L580.59,528.34 L582.27,528.78 L583.94,529.23 L585.62,529.68 L587.29,530.13 L588.97,530.58 L590.65,531.03 L592.32,531.48 L594.00,531.93 L595.68,532.38 L597.35,532.83 L599.03,533.28 L600.71,533.73 L602.38,534.18 L604.06,534.63 L605.73,535.08 L607.41,535.53 L609.09,535.98 L610.76,536.43 L612.44,536.87 L614.12,537.32 L615.79,537.77 L617.47,538.22 L619.14,538.66 L620.82,539.11 L622.50,539.55 L624.17,539.99 L625.85,540.44 L627.53,540.88 L629.20,541.32 L630.88,541.76 L632.56,542.20 L634.23,542.64 L635.91,543.07 L637.58,543.51 L639.26,543.95 L640.94,544.38 L642.61,544.82 L644.29,545.25 L645.97,545.68 L647.64,546.12 L649.32,546.55 L650.99,546.98 L652.67,547.41 L654.35,547.85 L656.02,548.28 L657.70,548.71 L659.38,549.14 L661.05,549.57 L662.73,550.00 L664.41,550.43 L666.08,550.85 L667.76,551.28 L669.43,551.71 L671.11,552.14 L672.79,552.57 L674.46,553.00 L676.14,553.42 L677.82,553.85 L679.49,554.28 L681.17,554.71 L682.84,555.14 L684.52,555.57 L686.20,555.99 L687.87,556.42 L689.55,556.85 L691.23,557.28 L692.90,557.71 L694.58,558.14 L696.26,558.57 L697.93,559.00 L699.61,559.43 L701.28,559.85 L702.96,560.28 L704.64,560.71 L706.31,561.14 L707.99,561.57 L709.67,561.99 L711.34,562.42 L713.02,562.84 L714.69,563.27 L716.37,563.69 L718.05,564.12 L719.72,564.54 L721.40,564.96 L723.08,565.38 L724.75,565.80 L726.43,566.22 L728.11,566.64 L729.78,567.05 L731.46,567.47 L733.13,567.88 L734.81,568.30 L736.49,568.71 L738.16,569.12 L739.84,569.53 L741.52,569.94 L743.19,570.35 L744.87,570.76 L746.54,571.17 L748.22,571.57 L749.90,571.98 L751.57,572.39 L753.25,572.79 L754.93,573.20 L756.60,573.60 L758.28,574.00 L759.96,574.41 L761.63,574.81 L763.31,575.21 L764.98,575.61 L766.66,576.01 L768.34,576.41 L770.01,576.80 L771.69,577.20 L773.37,577.60 L775.04,577.99 L776.72,578.39 L778.39,578.78 L780.07,579.17 L781.75,579.57 L783.42,579.96 L785.10,580.35" fill="none" stroke="#ff0000" stroke-width="2.40"/>
<path d="M116.25,767.20 L117.93,767.19 L119.60,767.18 L121.28,767.16 L122.96,767.13 L124.63,767.10 L126.31,767.06 L127.98,767.02 L129.66,766.98 L131.34,766.92 L133.01,766.86 L134.69,766.78 L136.37,766.69 L138.04,766.60 L139.72,766.50 L141.39,766.40 L143.07,766.29 L144.75,766.18 L146.42,766.05 L148.10,765.91 L149.78,765.77 L151.45,765.61 L153.13,765.45 L154.81,765.29 L156.48,765.11 L158.16,764.91 L159.83,764.70 L161.51,764.49 L163.19,764.26 L164.86,764.02 L166.54,763.78 L168.22,763.53 L169.89,763.28 L171.57,763.02 L173.24,762.75 L174.92,762.48 L176.60,762.20 L178.27,761.91 L179.95,761.62 L181.63,761.32 L183.30,761.02 L184.98,760.71 L186.66,760.40 L188.33,760.09 L190.01,759.77 L191.68,759.45 L193.36,759.12 L195.04,758.80 L196.71,758.46 L198.39,758.11 L200.07,757.76 L201.74,757.41 L203.42,757.04 L205.09,756.68 L206.77,756.31 L208.45,755.93 L210.12,755.55 L211.80,755.17 L213.48,754.79 L215.15,754.41 L216.83,754.03 L218.51,753.65 L220.18,753.27 L221.86,752.88 L223.53,752.49 L225.21,752.11 L226.89,751.71 L228.56,751.32 L230.24,750.93 L231.92,750.53 L233.59,750.13 L235.27,749.73 L236.94,749.32 L238.62,748.92 L240.30,748.51 L241.97,748.11 L243.65,747.70 L245.33,747.29 L247.00,746.88 L248.68,746.46 L250.36,746.05 L252.03,745.63 L253.71,745.21 L255.38,744.79 L257.06,744.36 L258.74,743.94 L260.41,743.51 L262.09,743.09 L263.77,742.66 L265.44,742.23 L267.12,741.80 L268.79,741.38 L270.47,740.95 L272.15,740.52 L273.82,740.09 L275.50,739.66 L277.18,739.24 L278.85,738.81 L280.53,738.38 L282.21,737.95 L283.88,737.52 L285.56,737.09 L287.23,736.66 L288.91,736.23 L290.59,735.80 L292.26,735.37 L293.94,734.93 L295.62,734.50 L297.29,734.07 L298.97,733.63 L300.64,733.20 L302.32,732.77 L304.00,732.33 L305.67,731.89 L307.35,731.46 L309.03,731.02 L310.70,730.58 L312.38,730.14 L314.06,729.70 L315.73,729.26 L317.41,728.82 L319.08,728.38 L320.76,727.94 L322.44,727.50 L324.11,727.05 L325.79,726.61 L327.47,726.16 L329.14,725.71 L330.82,725.26 L332.49,724.82 L334.17,724.37 L335.85,723.91 L337.52,723.46 L339.20,723.01 L340.88,722.56 L342.55,722.10 L344.23,721.65 L345.91,721.19 L347.58,720.74 L349.26,720.28 L350.93,719.83 L352.61,719.37 L354.29,718.92 L355.96,718.46 L357.64,718.00 L359.32,717.55 L360.99,717.09 L362.67,716.63 L364.34,716.18 L366.02,715.72 L367.70,715.27 L369.37,714.81 L371.05,714.35 L372.73,713.90 L374.40,713.45 L376.08,712.99 L377.76,712.54 L379.43,712.08 L381.11,711.63 L382.78,711.17 L384.46,710.72 L386.14,710.26 L387.81,709.81 L389.49,709.35 L391.17,708.90 L392.84,708.44 L394.52,707.99 L396.19,707.53 L397.87,707.08 L399.55,706.62 L401.22,706.17 L402.90,705.71 L404.58,705.26 L406.25,704.80 L407.93,704.35 L409.61,703.89 L411.28,703.43 L412.96,702.98 L414.63,702.52 L416.31,702.07 L417.99,701.61 L419.66,701.15 L421.34,700.70 L423.02,700.24 L424.69,699.78 L426.37,699.32 L428.04,698.87 L429.72,698.41 L431.40,697.95 L433.07,697.49 L434.75,697.04 L436.43,696.58 L438.10,696.12 L439.78,695.66 L441.46,695.20 L443.13,694.74 L444.81,694.28 L446.48,693.82 L448.16,693.36 L449.84,692.91 L451.51,692.45 L453.19,691.99 L454.87,691.53 L456.54,691.07 L458.22,690.61 L459.89,690.15 L461.57,689.69 L463.25,689.23 L464.92,688.77 L466.60,688.31 L468.28,687.85 L469.95,687.39 L471.63,686.93 L473.31,686.47 L474.98,686.02 L476.66,685.56 L478.33,685.10 L480.01,684.64 L481.69,684.18 L483.36,683.72 L485.04,683.26 L486.72,682.80 L488.39,682.34 L490.07,681.88 L491.74,681.42 L493.42,680.96 L495.10,680.49 L496.77,680.03 L498.45,679.57 L500.13,679.11 L501.80,678.65 L503.48,678.19 L505.16,677.73 L506.83,677.27 L508.51,676.81 L510.18,676.35 L511.86,675.89 L513.54,675.44 L515.21,674.98 L516.89,674.52 L518.57,674.06 L520.24,673.61 L521.92,673.15 L523.59,672.70 L525.27,672.24 L526.95,671.79 L528.62,671.34 L530.30,670.88 L531.98,670.43 L533.65,669.98 L535.33,669.53 L537.01,669.08 L538.68,668.63 L540.36,668.18 L542.03,667.73 L543.71,667.28 L545.39,666.84 L547.06,666.39 L548.74,665.94 L550.42,665.50 L552.09,665.05 L553.77,664.60 L555.44,664.16 L557.12,663.71 L558.80,663.27 L560.47,662.82 L562.15,662.37 L563.83,661.93 L565.50,661.48 L567.18,661.04 L568.86,660.59 L570.53,660.15 L572.21,659.70 L573.88,659.25 L575.56,658.81 L577.24,658.36 L578.91,657.91 L580.59,657.46 L582.27,657.02 L583.94,656.57 L585.62,656.12 L587.29,655.67 L588.97,655.22 L590.65,654.77 L592.32,654.32 L594.00,653.87 L595.68,653.42 L597.35,652.97 L599.03,652.52 L600.71,652.07 L602.38,651.62 L604.06,651.17 L605.73,650.72 L607.41,650.27 L609.09,649.82 L610.76,649.37 L612.44,648.93 L614.12,648.48 L615.79,648.03 L617.47,647.58 L619.14,647.14 L620.82,646.69 L622.50,646.25 L624.17,645.81 L625.85,645.36 L627.53,644.92 L629.20,644.48 L630.88,644.04 L632.56,643.60 L634.23,643.16 L635.91,642.73 L637.58,642.29 L639.26,641.85 L640.94,641.42 L642.61,640.98 L644.29,640.55 L645.97,640.12 L647.64,639.68 L649.32,639.25 L650.99,638.82 L652.67,638.39 L654.35,637.95 L656.02,637.52 L657.70,637.09 L659.38,636.66 L661.05,636.23 L662.73,635.80 L664.41,635.37 L666.08,634.95 L667.76,634.52 L669.43,634.09 L671.11,633.66 L672.79,633.23 L674.46,632.80 L676.14,632.38 L677.82,631.95 L679.49,631.52 L681.17,631.09 L682.84,630.66 L684.52,630.23 L686.20,629.81 L687.87,629.38 L689.55,628.95 L691.23,628.52 L692.90,628.09 L694.58,627.66 L696.26,627.23 L697.93,626.80 L699.61,626.37 L701.28,625.95 L702.96,625.52 L704.64,625.09 L706.31,624.66 L707.99,624.23 L709.67,623.81 L711.34,623.38 L713.02,622.96 L714.69,622.53 L716.37,622.11 L718.05,621.68 L719.72,621.26 L721.40,620.84 L723.08,620.42 L724.75,620.00 L726.43,619.58 L728.11,619.16 L729.78,618.75 L731.46,618.33 L733.13,617.92 L734.81,617.50 L736.49,617.09 L738.16,616.68 L739.84,616.27 L741.52,615.86 L743.19,615.45 L744.87,615.04 L746.54,614.63 L748.22,614.23 L749.90,613.82 L751.57,613.41 L753.25,613.01 L754.93,612.60 L756.60,612.20 L758.28,611.80 L759.96,611.39 L761.63,610.99 L763.31,610.59 L764.98,610.19 L766.66,609.79 L768.34,609.39 L770.01,609.00 L771.69,608.60 L773.37,608.20 L775.04,607.81 L776.72,607.41 L778.39,607.02 L780.07,606.63 L781.75,606.23 L783.42,605.84 L785.10,605.45" fill="none" stroke="#ffa500" stroke-width="2.40"/>
<g fill="none" stroke="#ff0000" stroke-width="3.65" stroke-dasharray="7.00 9.50"><path d="M116.25,418.60 L116.33,418.60 L116.41,418.60 L116.48,418.60 L116.56,418.60 L116.64,418.60 L116.72,418.60 L116.79,418.60 L116.87,418.60 L116.95,418.60 L117.03,418.60 L117.10,418.60 L117.18,418.60 L117.26,418.60 L117.34,418.60 L117.41,418.60 L117.49,418.60 L117.57,418.60 L117.65,418.60 L117.72,418.60 L117.80,418.60 L117.88,418.60 L117.96,418.60 L118.03,418.60 L118.11,418.60 L118.19,418.60 L118.27,418.60 L118.34,418.60 L118.42,418.60 L118.50,418.60 L118.58,418.60 L118.65,418.60 L118.73,418.60 L118.81,418.60 L118.89,418.60 L118.96,418.60 L119.04,418.60 L119.12,418.60 L119.20,418.60 L119.27,418.61 L119.35,418.61 L119.43,418.61 L119.51,418.61 L119.59,418.61 L119.66,418.61 L119.74,418.61 L119.82,418.61 L119.90,418.61 L119.97,418.61 L120.05,418.61 L120.13,418.61 L120.21,418.61 L120.28,418.61 L120.36,418.61 L120.44,418.61 L120.52,418.61 L120.59,418.61 L120.67,418.61 L120.75,418.61 L120.83,418.61 L120.90,418.61 L120.98,418.61 L121.06,418.61 L121.14,418.61 L121.21,418.61 L121.29,418.61 L121.37,418.61 L121.45,418.61 L121.52,418.61 L121.60,418.61 L121.68,418.62 L121.76,418.62 L121.83,418.62 L121.91,418.62 L121.99,418.62 L122.07,418.62 L122.14,418.62 L122.22,418.62 L122.30,418.62 L122.38,418.62 L122.46,418.62 L122.53,418.62 L122.61,418.62 L122.69,418.62 L122.77,418.62 L122.84,418.62 L122.92,418.62 L123.00,418.62 L123.08,418.62 L123.15,418.62 L123.23,418.62 L123.31,418.62 L123.39,418.63 L123.46,418.63 L123.54,418.63 L123.62,418.63 L123.70,418.63 L123.77,418.63 L123.85,418.63 L123.93,418.63 L124.01,418.63 L124.08,418.63 L124.16,418.63 L124.24,418.63 L124.32,418.63 L124.39,418.63 L124.47,418.63 L124.55,418.63 L124.63,418.63 L124.70,418.63 L124.78,418.63 L124.86,418.64 L124.94,418.64 L125.01,418.64 L125.09,418.64 L125.17,418.64 L125.25,418.64 L125.32,418.64 L125.40,418.64 L125.48,418.64 L125.56,418.64 L125.64,418.64 L125.71,418.64 L125.79,418.64 L125.87,418.64 L125.95,418.64 L126.02,418.64 L126.10,418.64 L126.18,418.65 L126.26,418.65 L126.33,418.65 L126.41,418.65 L126.49,418.65 L126.57,418.65 L126.64,418.65 L126.72,418.65 L126.80,418.65 L126.88,418.65 L126.95,418.65 L127.03,418.65 L127.11,418.65 L127.19,418.65 L127.26,418.65 L127.34,418.65 L127.42,418.66 L127.50,418.66 L127.57,418.66 L127.65,418.66 L127.73,418.66 L127.81,418.66 L127.88,418.66 L127.96,418.66 L128.04,418.66 L128.12,418.66 L128.19,418.66 L128.27,418.66 L128.35,418.66 L128.43,418.66 L128.50,418.66 L128.58,418.67 L128.66,418.67 L128.74,418.67 L128.82,418.67 L128.89,418.67 L128.97,418.67 L129.05,418.67 L129.13,418.67 L129.20,418.67 L129.28,418.67 L129.36,418.67 L129.44,418.67 L129.51,418.67 L129.59,418.67 L129.67,418.67 L129.75,418.68 L129.82,418.68 L129.90,418.68 L129.98,418.68 L130.06,418.68 L130.13,418.68 L130.21,418.68 L130.29,418.68 L130.37,418.68 L130.44,418.68 L130.52,418.68 L130.60,418.68 L130.68,418.69 L130.75,418.69 L130.83,418.69 L130.91,418.69 L130.99,418.69 L131.06,418.69 L131.14,418.69 L131.22,418.69 L131.30,418.69 L131.37,418.69 L131.45,418.70 L131.53,418.70 L131.61,418.70 L131.69,418.70 L132.04,418.70 L132.39,418.71 L132.74,418.72 L133.10,418.72 L133.45,418.73 L133.80,418.73 L134.16,418.74 L134.51,418.75 L134.86,418.75 L135.22,418.76 L135.57,418.77 L135.92,418.78 L136.27,418.79 L136.63,418.79 L136.98,418.80 L137.33,418.81 L137.69,418.82 L138.04,418.83 L138.39,418.84 L138.75,418.85 L139.10,418.86 L139.45,418.87 L139.81,418.88 L140.16,418.89 L140.51,418.90 L140.86,418.91 L141.22,418.92 L141.57,418.94 L141.92,418.95 L142.28,418.96 L142.63,418.97 L142.98,418.99 L143.34,419.00 L143.69,419.02 L144.04,419.04 L144.40,419.06 L144.75,419.07 L145.10,419.10 L145.45,419.12 L145.81,419.14 L146.16,419.16 L146.51,419.19 L146.87,419.21 L147.22,419.24 L147.57,419.26 L147.93,419.29 L148.28,419.32 L148.63,419.35 L148.99,419.37 L149.34,419.40 L149.69,419.43 L150.04,419.46 L150.40,419.50 L150.75,419.53 L151.10,419.56 L151.46,419.59 L151.81,419.63 L152.16,419.66 L152.52,419.69 L152.87,419.73 L153.22,419.76 L153.57,419.80 L153.93,419.83 L154.28,419.87 L154.63,419.90 L154.99,419.94 L155.34,419.98 L155.69,420.02 L156.05,420.06 L156.40,420.10 L156.75,420.14 L157.11,420.19 L157.46,420.23 L157.81,420.28 L158.16,420.33 L158.52,420.38 L158.87,420.43 L159.22,420.48 L159.58,420.53 L159.93,420.59 L160.28,420.64 L160.64,420.70 L160.99,420.76 L161.34,420.81 L161.70,420.87 L162.05,420.93 L162.40,420.99 L162.75,421.05 L163.11,421.11 L163.46,421.17 L163.81,421.23 L164.17,421.29 L164.52,421.35 L164.87,421.41 L165.23,421.48 L165.58,421.54 L165.93,421.60 L166.29,421.66 L166.64,421.73 L166.99,421.79 L167.34,421.85 L167.70,421.91 L168.05,421.97 L168.40,422.04 L168.76,422.10 L169.11,422.16 L169.46,422.23 L169.82,422.29 L170.17,422.36 L170.52,422.42 L170.87,422.49 L171.23,422.56 L171.58,422.63 L171.93,422.69 L172.29,422.76 L172.64,422.83 L172.99,422.90 L173.35,422.97 L173.70,423.04 L174.05,423.11 L174.41,423.19 L174.76,423.26 L175.11,423.33 L175.46,423.40 L175.82,423.48 L176.17,423.55 L176.52,423.62 L176.88,423.70 L177.23,423.77 L177.58,423.85 L177.94,423.92 L178.29,424.00 L178.64,424.07 L179.00,424.15 L179.35,424.22 L179.70,424.30 L180.05,424.38 L180.41,424.45 L180.76,424.53 L181.11,424.61 L181.47,424.68 L181.82,424.76 L182.17,424.84 L182.53,424.92 L182.88,424.99 L183.23,425.07 L183.59,425.15 L183.94,425.23 L184.29,425.31 L184.64,425.39 L185.00,425.47 L185.35,425.55 L185.70,425.63 L186.06,425.71 L186.41,425.79 L186.76,425.87 L187.12,425.95 L187.47,426.04 L187.82,426.12 L188.18,426.20 L188.53,426.29 L188.88,426.37 L189.23,426.46 L189.59,426.54 L189.94,426.63 L190.29,426.71 L190.65,426.80 L191.00,426.89 L191.35,426.97 L191.71,427.06 L192.06,427.15 L192.41,427.24 L192.76,427.32 L193.12,427.41 L193.47,427.50 L193.82,427.59 L194.18,427.68 L194.53,427.77 L194.88,427.86 L195.24,427.95 L195.59,428.04 L195.94,428.12 L196.30,428.21 L196.65,428.30 L197.00,428.39 L197.35,428.48 L197.71,428.58 L198.06,428.67 L198.41,428.76 L198.77,428.85 L199.12,428.94 L199.47,429.03 L199.83,429.12 L200.18,429.21 L200.53,429.30 L200.89,429.40"/><path d="M200.89,429.40 L201.32,429.51 L201.75,429.62 L202.18,429.73 L202.61,429.85 L203.04,429.96 L203.47,430.08 L203.90,430.19 L204.33,430.30 L204.76,430.42 L205.19,430.54 L205.62,430.65 L206.05,430.77 L206.48,430.88 L206.91,431.00 L207.34,431.12 L207.77,431.24 L208.20,431.35 L208.64,431.47 L209.07,431.59 L209.50,431.71 L209.93,431.83 L210.36,431.95 L210.79,432.07 L211.22,432.19 L211.65,432.31 L212.08,432.43 L212.51,432.55 L212.94,432.68 L213.37,432.80 L213.80,432.92 L214.23,433.05 L214.66,433.17 L215.09,433.30 L215.52,433.42 L215.95,433.55 L216.39,433.67 L216.82,433.80 L217.25,433.93 L217.68,434.06 L218.11,434.18 L218.54,434.31 L218.97,434.44 L219.40,434.57 L219.83,434.70 L220.26,434.83 L220.69,434.97 L221.12,435.10 L221.55,435.23 L221.98,435.37 L222.41,435.50 L222.84,435.64 L223.27,435.78 L223.70,435.92 L224.14,436.05 L224.57,436.19 L225.00,436.33 L225.43,436.47 L225.86,436.61 L226.29,436.76 L226.72,436.90 L227.15,437.04 L227.58,437.18 L228.01,437.33 L228.44,437.47 L228.87,437.62 L229.30,437.76 L229.73,437.91 L230.16,438.05 L230.59,438.20 L231.02,438.35 L231.45,438.50 L231.89,438.64 L232.32,438.79 L232.75,438.94 L233.18,439.09 L233.61,439.24 L234.04,439.39 L234.47,439.54 L234.90,439.69 L235.33,439.84 L235.76,439.99 L236.19,440.14 L236.62,440.29 L237.05,440.44 L237.48,440.59 L237.91,440.74 L238.34,440.89 L238.77,441.04 L239.20,441.19 L239.64,441.34 L240.07,441.49 L240.50,441.64 L240.93,441.80 L241.36,441.95 L241.79,442.10 L242.22,442.25 L242.65,442.40 L243.08,442.55 L243.51,442.70 L243.94,442.85 L244.37,443.00 L244.80,443.15 L245.23,443.30 L245.66,443.45 L246.09,443.60 L246.52,443.75 L246.95,443.91 L247.39,444.06 L247.82,444.21 L248.25,444.36 L248.68,444.52 L249.11,444.67 L249.54,444.83 L249.97,444.98 L250.40,445.14 L250.83,445.29 L251.26,445.45 L251.69,445.60 L252.12,445.76 L252.55,445.92 L252.98,446.07 L253.41,446.23 L253.84,446.39 L254.27,446.54 L254.70,446.70 L255.14,446.86 L255.57,447.02 L256.00,447.17 L256.43,447.33 L256.86,447.49 L257.29,447.65 L257.72,447.80 L258.15,447.96 L258.58,448.12 L259.01,448.28 L259.44,448.43 L259.87,448.59 L260.30,448.75 L260.73,448.90 L261.16,449.06 L261.59,449.22 L262.02,449.37 L262.45,449.53 L262.89,449.69 L263.32,449.84 L263.75,450.00 L264.18,450.15 L264.61,450.31 L265.04,450.46 L265.47,450.61 L265.90,450.77 L266.33,450.92 L266.76,451.07 L267.19,451.23 L267.62,451.38 L268.05,451.53 L268.48,451.68 L268.91,451.83 L269.34,451.98 L269.77,452.13 L270.20,452.28 L270.64,452.43 L271.07,452.57 L271.50,452.72 L271.93,452.87 L272.36,453.02 L272.79,453.16 L273.22,453.31 L273.65,453.46 L274.08,453.60 L274.51,453.75 L274.94,453.89 L275.37,454.04 L275.80,454.18 L276.23,454.33 L276.66,454.47 L277.09,454.62 L277.52,454.76 L277.95,454.91 L278.39,455.05 L278.82,455.20 L279.25,455.34 L279.68,455.48 L280.11,455.63 L280.54,455.77 L280.97,455.91 L281.40,456.06 L281.83,456.20 L282.26,456.34 L282.69,456.48 L283.12,456.63 L283.55,456.77 L283.98,456.91 L284.41,457.05 L284.84,457.20 L285.27,457.34 L285.70,457.48 L286.14,457.62 L286.57,457.76 L287.00,457.90 L287.43,458.04 L287.86,458.18 L288.29,458.32 L288.72,458.46 L289.15,458.61 L289.58,458.75 L290.01,458.89 L290.44,459.03 L290.87,459.17 L291.30,459.31 L291.73,459.45 L292.16,459.58 L292.59,459.72 L293.02,459.86 L293.45,460.00 L293.89,460.14 L294.32,460.28 L294.75,460.42 L295.18,460.56 L295.61,460.70 L296.04,460.84 L296.47,460.98 L296.90,461.11 L297.33,461.25 L297.76,461.39 L298.19,461.53 L298.62,461.67 L299.05,461.81 L299.48,461.94 L299.91,462.08 L300.34,462.22 L300.77,462.36 L301.20,462.50 L301.64,462.63 L302.07,462.77 L302.50,462.91 L302.93,463.05 L303.36,463.18 L303.79,463.32 L304.22,463.46 L304.65,463.60 L305.08,463.73 L305.51,463.87 L305.94,464.01 L306.37,464.15 L306.80,464.28 L307.23,464.42 L307.66,464.56 L308.09,464.70 L308.52,464.83 L308.95,464.97 L309.39,465.11 L309.82,465.24 L310.25,465.38 L310.68,465.52 L311.11,465.66 L311.54,465.79 L311.97,465.93 L312.40,466.07 L312.83,466.20 L313.26,466.34 L313.69,466.48 L314.12,466.62 L314.55,466.75 L314.98,466.89 L315.41,467.03 L315.84,467.17 L316.27,467.30 L316.70,467.44 L317.14,467.58 L317.57,467.71 L318.00,467.85 L318.43,467.99 L318.86,468.13 L319.29,468.26 L319.72,468.40 L320.15,468.54 L320.58,468.68 L321.01,468.81 L321.44,468.95 L321.87,469.09 L322.30,469.23 L322.73,469.37 L323.16,469.50 L323.59,469.64"/><path d="M323.59,469.64 L324.02,469.78 L324.46,469.92 L324.89,470.05 L325.32,470.19 L325.75,470.33 L326.18,470.47 L326.61,470.60 L327.04,470.74 L327.47,470.88 L327.91,471.02 L328.34,471.15 L328.77,471.29 L329.20,471.43 L329.63,471.57 L330.06,471.70 L330.49,471.84 L330.93,471.98 L331.36,472.12 L331.79,472.25 L332.22,472.39 L332.65,472.53 L333.08,472.66 L333.51,472.80 L333.94,472.94 L334.38,473.07 L334.81,473.21 L335.24,473.35 L335.67,473.48 L336.10,473.62 L336.53,473.76 L336.96,473.89 L337.39,474.03 L337.83,474.17 L338.26,474.30 L338.69,474.44 L339.12,474.58 L339.55,474.71 L339.98,474.85 L340.41,474.98 L340.84,475.12 L341.28,475.26 L341.71,475.39 L342.14,475.53 L342.57,475.67 L343.00,475.80 L343.43,475.94 L343.86,476.07 L344.29,476.21 L344.73,476.35 L345.16,476.48 L345.59,476.62 L346.02,476.75 L346.45,476.89 L346.88,477.03 L347.31,477.16 L347.74,477.30 L348.18,477.43 L348.61,477.57 L349.04,477.70 L349.47,477.84 L349.90,477.97 L350.33,478.11 L350.76,478.25 L351.19,478.38 L351.63,478.52 L352.06,478.65 L352.49,478.79 L352.92,478.92 L353.35,479.06 L353.78,479.19 L354.21,479.33 L354.65,479.46 L355.08,479.60 L355.51,479.73 L355.94,479.87 L356.37,480.01 L356.80,480.14 L357.23,480.28 L357.66,480.41 L358.10,480.55 L358.53,480.68 L358.96,480.82 L359.39,480.95 L359.82,481.09 L360.25,481.22 L360.68,481.36 L361.11,481.49 L361.55,481.63 L361.98,481.76 L362.41,481.89 L362.84,482.03 L363.27,482.16 L363.70,482.30 L364.13,482.43 L364.56,482.57 L365.00,482.70 L365.43,482.84 L365.86,482.97 L366.29,483.11 L366.72,483.24 L367.15,483.38 L367.58,483.51 L368.01,483.65 L368.45,483.78 L368.88,483.92 L369.31,484.05 L369.74,484.18 L370.17,484.32 L370.60,484.45 L371.03,484.59 L371.46,484.72 L371.90,484.86 L372.33,484.99 L372.76,485.13 L373.19,485.26 L373.62,485.39 L374.05,485.53 L374.48,485.66 L374.91,485.80 L375.35,485.93 L375.78,486.07 L376.21,486.20 L376.64,486.33 L377.07,486.47 L377.50,486.60 L377.93,486.74 L378.37,486.87 L378.80,487.01 L379.23,487.14 L379.66,487.27 L380.09,487.41 L380.52,487.54 L380.95,487.68 L381.38,487.81 L381.82,487.94 L382.25,488.08 L382.68,488.21 L383.11,488.35 L383.54,488.48 L383.97,488.61 L384.40,488.75 L384.83,488.88 L385.27,489.01 L385.70,489.15 L386.13,489.28 L386.56,489.42 L386.99,489.55 L387.42,489.68 L387.85,489.82 L388.28,489.95 L388.72,490.08 L389.15,490.22 L389.58,490.35 L390.01,490.48 L390.44,490.62 L390.87,490.75 L391.30,490.88 L391.73,491.02 L392.17,491.15 L392.60,491.28 L393.03,491.42 L393.46,491.55 L393.89,491.68 L394.32,491.82 L394.75,491.95 L395.18,492.08 L395.62,492.22 L396.05,492.35 L396.48,492.48 L396.91,492.62 L397.34,492.75 L397.77,492.88 L398.20,493.02 L398.63,493.15 L399.07,493.28 L399.50,493.42 L399.93,493.55 L400.36,493.68 L400.79,493.81 L401.22,493.95 L401.65,494.08 L402.09,494.21 L402.52,494.35 L402.95,494.48 L403.38,494.61 L403.81,494.74 L404.24,494.88 L404.67,495.01 L405.10,495.14 L405.54,495.27 L405.97,495.41 L406.40,495.54 L406.83,495.67 L407.26,495.80 L407.69,495.94 L408.12,496.07 L408.55,496.20 L408.99,496.33 L409.42,496.47 L409.85,496.60 L410.28,496.73 L410.71,496.86 L411.14,497.00 L411.57,497.13 L412.00,497.26 L412.44,497.39 L412.87,497.52 L413.30,497.66 L413.73,497.79 L414.16,497.92 L414.59,498.05 L415.02,498.19 L415.45,498.32 L415.89,498.45 L416.32,498.58 L416.75,498.71 L417.18,498.85 L417.61,498.98 L418.04,499.11 L418.47,499.24 L418.90,499.37 L419.34,499.50 L419.77,499.64 L420.20,499.77 L420.63,499.90 L421.06,500.03 L421.49,500.16 L421.92,500.29 L422.35,500.43 L422.79,500.56 L423.22,500.69 L423.65,500.82 L424.08,500.95 L424.51,501.08 L424.94,501.22 L425.37,501.35 L425.80,501.48 L426.24,501.61 L426.67,501.74 L427.10,501.87 L427.53,502.00 L427.96,502.14 L428.39,502.27 L428.82,502.40 L429.26,502.53 L429.69,502.66 L430.12,502.79 L430.55,502.92 L430.98,503.06 L431.41,503.19 L431.84,503.32 L432.27,503.45 L432.71,503.58 L433.14,503.71 L433.57,503.84 L434.00,503.97 L434.43,504.11 L434.86,504.24 L435.29,504.37 L435.72,504.50 L436.16,504.63 L436.59,504.76 L437.02,504.89 L437.45,505.02 L437.88,505.15 L438.31,505.28 L438.74,505.42 L439.17,505.55 L439.61,505.68 L440.04,505.81 L440.47,505.94 L440.90,506.07"/><path d="M440.90,506.07 L441.33,506.20 L441.76,506.33 L442.19,506.46 L442.62,506.59 L443.05,506.72 L443.48,506.85 L443.91,506.98 L444.34,507.11 L444.77,507.24 L445.20,507.37 L445.63,507.50 L446.06,507.64 L446.49,507.77 L446.92,507.90 L447.35,508.03 L447.79,508.16 L448.22,508.29 L448.65,508.42 L449.08,508.55 L449.51,508.68 L449.94,508.81 L450.37,508.94 L450.80,509.07 L451.23,509.20 L451.66,509.33 L452.09,509.46 L452.52,509.59 L452.95,509.72 L453.38,509.85 L453.81,509.98 L454.24,510.10 L454.67,510.23 L455.10,510.36 L455.53,510.49 L455.96,510.62 L456.39,510.75 L456.82,510.88 L457.25,511.01 L457.68,511.14 L458.11,511.27 L458.54,511.40 L458.97,511.53 L459.41,511.66 L459.84,511.79 L460.27,511.92 L460.70,512.05 L461.13,512.18 L461.56,512.30 L461.99,512.43 L462.42,512.56 L462.85,512.69 L463.28,512.82 L463.71,512.95 L464.14,513.08 L464.57,513.21 L465.00,513.34 L465.43,513.46 L465.86,513.59 L466.29,513.72 L466.72,513.85 L467.15,513.98 L467.58,514.11 L468.01,514.24 L468.44,514.36 L468.87,514.49 L469.30,514.62 L469.73,514.75 L470.16,514.88 L470.59,515.01 L471.02,515.13 L471.46,515.26 L471.89,515.39 L472.32,515.52 L472.75,515.65 L473.18,515.77 L473.61,515.90 L474.04,516.03 L474.47,516.16 L474.90,516.29 L475.33,516.41 L475.76,516.54 L476.19,516.67 L476.62,516.80 L477.05,516.92 L477.48,517.05 L477.91,517.18 L478.34,517.31 L478.77,517.43 L479.20,517.56 L479.63,517.69 L480.06,517.81 L480.49,517.94 L480.92,518.07 L481.35,518.20 L481.78,518.32 L482.21,518.45 L482.64,518.58 L483.07,518.70 L483.51,518.83 L483.94,518.96 L484.37,519.09 L484.80,519.21 L485.23,519.34 L485.66,519.47 L486.09,519.59 L486.52,519.72 L486.95,519.85 L487.38,519.97 L487.81,520.10 L488.24,520.23 L488.67,520.35 L489.10,520.48 L489.53,520.61 L489.96,520.73 L490.39,520.86 L490.82,520.98 L491.25,521.11 L491.68,521.24 L492.11,521.36 L492.54,521.49 L492.97,521.62 L493.40,521.74 L493.83,521.87 L494.26,521.99 L494.69,522.12 L495.13,522.25 L495.56,522.37 L495.99,522.50 L496.42,522.62 L496.85,522.75 L497.28,522.88 L497.71,523.00 L498.14,523.13 L498.57,523.25 L499.00,523.38 L499.43,523.50 L499.86,523.63 L500.29,523.76 L500.72,523.88 L501.15,524.01 L501.58,524.13 L502.01,524.26 L502.44,524.38 L502.87,524.51 L503.30,524.63 L503.73,524.76 L504.16,524.88 L504.59,525.01 L505.02,525.13 L505.45,525.26 L505.88,525.39 L506.31,525.51 L506.74,525.64 L507.18,525.76 L507.61,525.89 L508.04,526.01 L508.47,526.13 L508.90,526.26 L509.33,526.38 L509.76,526.51 L510.19,526.63 L510.62,526.76 L511.05,526.88 L511.48,527.01 L511.91,527.13 L512.34,527.26 L512.77,527.38 L513.20,527.51 L513.63,527.63 L514.06,527.76 L514.49,527.88 L514.92,528.00 L515.35,528.13 L515.78,528.25 L516.21,528.38 L516.64,528.50 L517.07,528.62 L517.50,528.75 L517.93,528.87 L518.36,529.00 L518.79,529.12 L519.23,529.24 L519.66,529.37 L520.09,529.49 L520.52,529.62 L520.95,529.74 L521.38,529.86 L521.81,529.99 L522.24,530.11 L522.67,530.24 L523.10,530.36 L523.53,530.48 L523.96,530.61 L524.39,530.73 L524.82,530.85 L525.25,530.98 L525.68,531.10 L526.11,531.22 L526.54,531.35 L526.97,531.47 L527.40,531.59 L527.83,531.72 L528.26,531.84 L528.69,531.96 L529.12,532.09 L529.55,532.21 L529.98,532.33 L530.41,532.45 L530.85,532.58 L531.28,532.70 L531.71,532.82 L532.14,532.95 L532.57,533.07 L533.00,533.19 L533.43,533.31 L533.86,533.44 L534.29,533.56 L534.72,533.68 L535.15,533.81 L535.58,533.93 L536.01,534.05 L536.44,534.17 L536.87,534.30 L537.30,534.42 L537.73,534.54 L538.16,534.66 L538.59,534.79 L539.02,534.91 L539.45,535.03 L539.88,535.15 L540.31,535.28 L540.74,535.40 L541.17,535.52 L541.60,535.64 L542.03,535.77 L542.46,535.89 L542.90,536.01 L543.33,536.13 L543.76,536.25 L544.19,536.38 L544.62,536.50 L545.05,536.62 L545.48,536.74 L545.91,536.86 L546.34,536.99 L546.77,537.11 L547.20,537.23 L547.63,537.35 L548.06,537.47 L548.49,537.60 L548.92,537.72 L549.35,537.84 L549.78,537.96 L550.21,538.08 L550.64,538.20 L551.07,538.33 L551.50,538.45 L551.93,538.57 L552.36,538.69 L552.79,538.81 L553.22,538.93 L553.65,539.05 L554.08,539.17 L554.52,539.30 L554.95,539.42 L555.38,539.54"/><path d="M555.38,539.54 L555.81,539.66 L556.24,539.78 L556.67,539.90 L557.10,540.02 L557.53,540.14 L557.97,540.27 L558.40,540.39 L558.83,540.51 L559.26,540.63 L559.69,540.75 L560.12,540.87 L560.55,540.99 L560.99,541.11 L561.42,541.23 L561.85,541.35 L562.28,541.47 L562.71,541.59 L563.14,541.71 L563.58,541.84 L564.01,541.96 L564.44,542.08 L564.87,542.20 L565.30,542.32 L565.73,542.44 L566.17,542.56 L566.60,542.68 L567.03,542.80 L567.46,542.92 L567.89,543.04 L568.32,543.16 L568.75,543.28 L569.19,543.40 L569.62,543.52 L570.05,543.64 L570.48,543.76 L570.91,543.88 L571.34,544.00 L571.78,544.11 L572.21,544.23 L572.64,544.35 L573.07,544.47 L573.50,544.59 L573.93,544.71 L574.37,544.83 L574.80,544.95 L575.23,545.07 L575.66,545.19 L576.09,545.31 L576.52,545.42 L576.95,545.54 L577.39,545.66 L577.82,545.78 L578.25,545.90 L578.68,546.02 L579.11,546.14 L579.54,546.25 L579.98,546.37 L580.41,546.49 L580.84,546.61 L581.27,546.73 L581.70,546.85 L582.13,546.96 L582.56,547.08 L583.00,547.20 L583.43,547.32 L583.86,547.43 L584.29,547.55 L584.72,547.67 L585.15,547.79 L585.59,547.91 L586.02,548.02 L586.45,548.14 L586.88,548.26 L587.31,548.38 L587.74,548.49 L588.18,548.61 L588.61,548.73 L589.04,548.84 L589.47,548.96 L589.90,549.08 L590.33,549.20 L590.76,549.31 L591.20,549.43 L591.63,549.55 L592.06,549.66 L592.49,549.78 L592.92,549.90 L593.35,550.01 L593.79,550.13 L594.22,550.25 L594.65,550.36 L595.08,550.48 L595.51,550.59 L595.94,550.71 L596.38,550.83 L596.81,550.94 L597.24,551.06 L597.67,551.18 L598.10,551.29 L598.53,551.41 L598.96,551.52 L599.40,551.64 L599.83,551.76 L600.26,551.87 L600.69,551.99 L601.12,552.10 L601.55,552.22 L601.99,552.33 L602.42,552.45 L602.85,552.57 L603.28,552.68 L603.71,552.80 L604.14,552.91 L604.58,553.03 L605.01,553.14 L605.44,553.26 L605.87,553.37 L606.30,553.49 L606.73,553.60 L607.16,553.72 L607.60,553.83 L608.03,553.95 L608.46,554.06 L608.89,554.18 L609.32,554.29 L609.75,554.41 L610.19,554.52 L610.62,554.64 L611.05,554.75 L611.48,554.87 L611.91,554.98 L612.34,555.10 L612.78,555.21 L613.21,555.33 L613.64,555.44 L614.07,555.56 L614.50,555.67 L614.93,555.79 L615.36,555.90 L615.80,556.01 L616.23,556.13 L616.66,556.24 L617.09,556.36 L617.52,556.47 L617.95,556.59 L618.39,556.70 L618.82,556.81 L619.25,556.93 L619.68,557.04 L620.11,557.16 L620.54,557.27 L620.98,557.38 L621.41,557.50 L621.84,557.61 L622.27,557.73 L622.70,557.84 L623.13,557.95 L623.56,558.07 L624.00,558.18 L624.43,558.29 L624.86,558.41 L625.29,558.52 L625.72,558.64 L626.15,558.75 L626.59,558.86 L627.02,558.98 L627.45,559.09 L627.88,559.20 L628.31,559.32 L628.74,559.43 L629.18,559.54 L629.61,559.66 L630.04,559.77 L630.47,559.88 L630.90,560.00 L631.33,560.11 L631.76,560.22 L632.20,560.34 L632.63,560.45 L633.06,560.56 L633.49,560.68 L633.92,560.79 L634.35,560.90 L634.79,561.01 L635.22,561.13 L635.65,561.24 L636.08,561.35 L636.51,561.47 L636.94,561.58 L637.37,561.69 L637.81,561.80 L638.24,561.92 L638.67,562.03 L639.10,562.14 L639.53,562.25 L639.96,562.37 L640.40,562.48 L640.83,562.59 L641.26,562.70 L641.69,562.81 L642.12,562.93 L642.55,563.04 L642.99,563.15 L643.42,563.26 L643.85,563.37 L644.28,563.49 L644.71,563.60 L645.14,563.71 L645.57,563.82 L646.01,563.93 L646.44,564.05 L646.87,564.16 L647.30,564.27 L647.73,564.38 L648.16,564.49 L648.60,564.60 L649.03,564.72 L649.46,564.83 L649.89,564.94 L650.32,565.05 L650.75,565.16 L651.19,565.27 L651.62,565.38 L652.05,565.50 L652.48,565.61 L652.91,565.72 L653.34,565.83 L653.77,565.94 L654.21,566.05 L654.64,566.16 L655.07,566.27 L655.50,566.38 L655.93,566.50 L656.36,566.61 L656.80,566.72 L657.23,566.83 L657.66,566.94 L658.09,567.05 L658.52,567.16 L658.95,567.27 L659.39,567.38 L659.82,567.49 L660.25,567.60 L660.68,567.71 L661.11,567.83 L661.54,567.94 L661.97,568.05 L662.41,568.16 L662.84,568.27 L663.27,568.38 L663.70,568.49 L664.13,568.60 L664.56,568.71 L665.00,568.82 L665.43,568.93"/><path d="M665.43,568.93 L665.86,569.04 L666.29,569.15 L666.72,569.26 L667.16,569.37 L667.59,569.48 L668.02,569.59 L668.45,569.70 L668.88,569.81 L669.32,569.92 L669.75,570.03 L670.18,570.14 L670.61,570.25 L671.05,570.37 L671.48,570.48 L671.91,570.59 L672.34,570.70 L672.77,570.81 L673.21,570.92 L673.64,571.03 L674.07,571.14 L674.50,571.25 L674.94,571.36 L675.37,571.47 L675.80,571.58 L676.23,571.69 L676.66,571.80 L677.10,571.91 L677.53,572.02 L677.96,572.13 L678.39,572.24 L678.82,572.35 L679.26,572.46 L679.69,572.57 L680.12,572.68 L680.55,572.79 L680.99,572.90 L681.42,573.01 L681.85,573.12 L682.28,573.23 L682.71,573.33 L683.15,573.44 L683.58,573.55 L684.01,573.66 L684.44,573.77 L684.88,573.88 L685.31,573.99 L685.74,574.11 L686.17,574.22 L686.60,574.33 L687.04,574.44 L687.47,574.55 L687.90,574.66 L688.33,574.77 L688.77,574.88 L689.20,574.99 L689.63,575.10 L690.06,575.21 L690.49,575.32 L690.93,575.43 L691.36,575.54 L691.79,575.65 L692.22,575.76 L692.65,575.87 L693.09,575.98 L693.52,576.09 L693.95,576.20 L694.38,576.31 L694.82,576.42 L695.25,576.53 L695.68,576.65 L696.11,576.76 L696.54,576.87 L696.98,576.98 L697.41,577.09 L697.84,577.20 L698.27,577.31 L698.71,577.42 L699.14,577.53 L699.57,577.64 L700.00,577.75 L700.43,577.86 L700.87,577.97 L701.30,578.08 L701.73,578.19 L702.16,578.30 L702.59,578.41 L703.03,578.52 L703.46,578.63 L703.89,578.74 L704.32,578.85 L704.76,578.96 L705.19,579.07 L705.62,579.18 L706.05,579.29 L706.48,579.40 L706.92,579.51 L707.35,579.62 L707.78,579.73 L708.21,579.84 L708.65,579.95 L709.08,580.06 L709.51,580.17 L709.94,580.28 L710.37,580.39 L710.81,580.50 L711.24,580.60 L711.67,580.71 L712.10,580.82 L712.53,580.93 L712.97,581.04 L713.40,581.15 L713.83,581.26 L714.26,581.37 L714.70,581.47 L715.13,581.58 L715.56,581.69 L715.99,581.80 L716.42,581.91 L716.86,582.01 L717.29,582.12 L717.72,582.23 L718.15,582.34 L718.59,582.44 L719.02,582.55 L719.45,582.66 L719.88,582.77 L720.31,582.87 L720.75,582.98 L721.18,583.09 L721.61,583.19 L722.04,583.30 L722.48,583.41 L722.91,583.51 L723.34,583.62 L723.77,583.72 L724.20,583.83 L724.64,583.93 L725.07,584.04 L725.50,584.15 L725.93,584.25 L726.36,584.36 L726.80,584.46 L727.23,584.57 L727.66,584.67 L728.09,584.77 L728.53,584.88 L728.96,584.98 L729.39,585.09 L729.82,585.19 L730.25,585.29 L730.69,585.40 L731.12,585.50 L731.55,585.60 L731.98,585.71 L732.42,585.81 L732.85,585.91 L733.28,586.01 L733.71,586.12 L734.14,586.22 L734.58,586.32 L735.01,586.42 L735.44,586.52 L735.87,586.63 L736.30,586.73 L736.74,586.83 L737.17,586.93 L737.60,587.03 L738.03,587.13 L738.47,587.24 L738.90,587.34 L739.33,587.44 L739.76,587.54 L740.19,587.64 L740.63,587.74 L741.06,587.84 L741.49,587.94 L741.92,588.04 L742.36,588.14 L742.79,588.24 L743.22,588.34 L743.65,588.44 L744.08,588.54 L744.52,588.64 L744.95,588.74 L745.38,588.84 L745.81,588.94 L746.24,589.04 L746.68,589.14 L747.11,589.24 L747.54,589.34 L747.97,589.44 L748.41,589.54 L748.84,589.64 L749.27,589.74 L749.70,589.84 L750.13,589.93 L750.57,590.03 L751.00,590.13 L751.43,590.23 L751.86,590.33 L752.30,590.43 L752.73,590.52 L753.16,590.62 L753.59,590.72 L754.02,590.82 L754.46,590.92 L754.89,591.01 L755.32,591.11 L755.75,591.21 L756.19,591.31 L756.62,591.40 L757.05,591.50 L757.48,591.60 L757.91,591.70 L758.35,591.79 L758.78,591.89 L759.21,591.99 L759.64,592.08 L760.07,592.18 L760.51,592.28 L760.94,592.37 L761.37,592.47 L761.80,592.57 L762.24,592.66 L762.67,592.76 L763.10,592.85 L763.53,592.95 L763.96,593.05 L764.40,593.14 L764.83,593.24 L765.26,593.33 L765.69,593.43 L766.13,593.52 L766.56,593.62 L766.99,593.71 L767.42,593.81 L767.85,593.90 L768.29,594.00 L768.72,594.09 L769.15,594.19 L769.58,594.28 L770.01,594.38 L770.45,594.47 L770.88,594.56 L771.31,594.66"/><path d="M771.31,594.66 L771.76,594.75 L772.20,594.85 L772.65,594.95 L773.09,595.04 L773.54,595.14 L773.98,595.24 L774.42,595.33 L774.87,595.43 L775.31,595.52 L775.76,595.62 L776.20,595.72 L776.65,595.81 L777.09,595.91 L777.54,596.00 L777.98,596.10 L778.43,596.19 L778.87,596.29 L779.32,596.38 L779.76,596.48 L780.21,596.57 L780.65,596.67 L781.10,596.76 L781.54,596.86 L781.99,596.95 L782.43,597.04 L782.88,597.14 L783.32,597.23 L783.77,597.33 L784.21,597.42 L784.66,597.51 L785.10,597.61"/></g>
<g fill="none" stroke="#ffa500" stroke-width="3.65" stroke-dasharray="7.00 9.50"><path d="M116.25,767.20 L116.33,767.20 L116.41,767.20 L116.48,767.20 L116.56,767.20 L116.64,767.20 L116.72,767.20 L116.79,767.20 L116.87,767.20 L116.95,767.20 L117.03,767.20 L117.10,767.20 L117.18,767.20 L117.26,767.20 L117.34,767.20 L117.41,767.20 L117.49,767.20 L117.57,767.20 L117.65,767.20 L117.72,767.20 L117.80,767.20 L117.88,767.20 L117.96,767.20 L118.03,767.20 L118.11,767.20 L118.19,767.20 L118.27,767.20 L118.34,767.20 L118.42,767.20 L118.50,767.20 L118.58,767.20 L118.65,767.20 L118.73,767.20 L118.81,767.20 L118.89,767.20 L118.96,767.20 L119.04,767.20 L119.12,767.20 L119.20,767.20 L119.27,767.19 L119.35,767.19 L119.43,767.19 L119.51,767.19 L119.59,767.19 L119.66,767.19 L119.74,767.19 L119.82,767.19 L119.90,767.19 L119.97,767.19 L120.05,767.19 L120.13,767.19 L120.21,767.19 L120.28,767.19 L120.36,767.19 L120.44,767.19 L120.52,767.19 L120.59,767.19 L120.67,767.19 L120.75,767.19 L120.83,767.19 L120.90,767.19 L120.98,767.19 L121.06,767.19 L121.14,767.19 L121.21,767.19 L121.29,767.19 L121.37,767.19 L121.45,767.19 L121.52,767.19 L121.60,767.19 L121.68,767.18 L121.76,767.18 L121.83,767.18 L121.91,767.18 L121.99,767.18 L122.07,767.18 L122.14,767.18 L122.22,767.18 L122.30,767.18 L122.38,767.18 L122.46,767.18 L122.53,767.18 L122.61,767.18 L122.69,767.18 L122.77,767.18 L122.84,767.18 L122.92,767.18 L123.00,767.18 L123.08,767.18 L123.15,767.18 L123.23,767.18 L123.31,767.18 L123.39,767.17 L123.46,767.17 L123.54,767.17 L123.62,767.17 L123.70,767.17 L123.77,767.17 L123.85,767.17 L123.93,767.17 L124.01,767.17 L124.08,767.17 L124.16,767.17 L124.24,767.17 L124.32,767.17 L124.39,767.17 L124.47,767.17 L124.55,767.17 L124.63,767.17 L124.70,767.17 L124.78,767.17 L124.86,767.16 L124.94,767.16 L125.01,767.16 L125.09,767.16 L125.17,767.16 L125.25,767.16 L125.32,767.16 L125.40,767.16 L125.48,767.16 L125.56,767.16 L125.64,767.16 L125.71,767.16 L125.79,767.16 L125.87,767.16 L125.95,767.16 L126.02,767.16 L126.10,767.16 L126.18,767.15 L126.26,767.15 L126.33,767.15 L126.41,767.15 L126.49,767.15 L126.57,767.15 L126.64,767.15 L126.72,767.15 L126.80,767.15 L126.88,767.15 L126.95,767.15 L127.03,767.15 L127.11,767.15 L127.19,767.15 L127.26,767.15 L127.34,767.15 L127.42,767.14 L127.50,767.14 L127.57,767.14 L127.65,767.14 L127.73,767.14 L127.81,767.14 L127.88,767.14 L127.96,767.14 L128.04,767.14 L128.12,767.14 L128.19,767.14 L128.27,767.14 L128.35,767.14 L128.43,767.14 L128.50,767.14 L128.58,767.13 L128.66,767.13 L128.74,767.13 L128.82,767.13 L128.89,767.13 L128.97,767.13 L129.05,767.13 L129.13,767.13 L129.20,767.13 L129.28,767.13 L129.36,767.13 L129.44,767.13 L129.51,767.13 L129.59,767.13 L129.67,767.13 L129.75,767.12 L129.82,767.12 L129.90,767.12 L129.98,767.12 L130.06,767.12 L130.13,767.12 L130.21,767.12 L130.29,767.12 L130.37,767.12 L130.44,767.12 L130.52,767.12 L130.60,767.12 L130.68,767.11 L130.75,767.11 L130.83,767.11 L130.91,767.11 L130.99,767.11 L131.06,767.11 L131.14,767.11 L131.22,767.11 L131.30,767.11 L131.37,767.11 L131.45,767.10 L131.53,767.10 L131.61,767.10 L131.69,767.10 L132.04,767.10 L132.39,767.09 L132.74,767.08 L133.10,767.08 L133.45,767.07 L133.80,767.07 L134.16,767.06 L134.51,767.05 L134.86,767.05 L135.22,767.04 L135.57,767.03 L135.92,767.02 L136.27,767.01 L136.63,767.01 L136.98,767.00 L137.33,766.99 L137.69,766.98 L138.04,766.97 L138.39,766.96 L138.75,766.95 L139.10,766.94 L139.45,766.93 L139.81,766.92 L140.16,766.91 L140.51,766.90 L140.86,766.89 L141.22,766.88 L141.57,766.86 L141.92,766.85 L142.28,766.84 L142.63,766.83 L142.98,766.81 L143.34,766.80 L143.69,766.78 L144.04,766.76 L144.40,766.74 L144.75,766.73 L145.10,766.70 L145.45,766.68 L145.81,766.66 L146.16,766.64 L146.51,766.61 L146.87,766.59 L147.22,766.56 L147.57,766.54 L147.93,766.51 L148.28,766.48 L148.63,766.45 L148.99,766.43 L149.34,766.40 L149.69,766.37 L150.04,766.34 L150.40,766.30 L150.75,766.27 L151.10,766.24 L151.46,766.21 L151.81,766.17 L152.16,766.14 L152.52,766.11 L152.87,766.07 L153.22,766.04 L153.57,766.00 L153.93,765.97 L154.28,765.93 L154.63,765.90 L154.99,765.86 L155.34,765.82 L155.69,765.78 L156.05,765.74 L156.40,765.70 L156.75,765.66 L157.11,765.61 L157.46,765.57 L157.81,765.52 L158.16,765.47 L158.52,765.42 L158.87,765.37 L159.22,765.32 L159.58,765.27 L159.93,765.21 L160.28,765.16 L160.64,765.10 L160.99,765.04 L161.34,764.99 L161.70,764.93 L162.05,764.87 L162.40,764.81 L162.75,764.75 L163.11,764.69 L163.46,764.63 L163.81,764.57 L164.17,764.51 L164.52,764.45 L164.87,764.39 L165.23,764.32 L165.58,764.26 L165.93,764.20 L166.29,764.14 L166.64,764.07 L166.99,764.01 L167.34,763.95 L167.70,763.89 L168.05,763.83 L168.40,763.76 L168.76,763.70 L169.11,763.64 L169.46,763.57 L169.82,763.51 L170.17,763.44 L170.52,763.38 L170.87,763.31 L171.23,763.24 L171.58,763.17 L171.93,763.11 L172.29,763.04 L172.64,762.97 L172.99,762.90 L173.35,762.83 L173.70,762.76 L174.05,762.69 L174.41,762.61 L174.76,762.54 L175.11,762.47 L175.46,762.40 L175.82,762.32 L176.17,762.25 L176.52,762.18 L176.88,762.10 L177.23,762.03 L177.58,761.95 L177.94,761.88 L178.29,761.80 L178.64,761.73 L179.00,761.65 L179.35,761.58 L179.70,761.50 L180.05,761.42 L180.41,761.35 L180.76,761.27 L181.11,761.19 L181.47,761.12 L181.82,761.04 L182.17,760.96 L182.53,760.88 L182.88,760.81 L183.23,760.73 L183.59,760.65 L183.94,760.57 L184.29,760.49 L184.64,760.41 L185.00,760.33 L185.35,760.25 L185.70,760.17 L186.06,760.09 L186.41,760.01 L186.76,759.93 L187.12,759.85 L187.47,759.76 L187.82,759.68 L188.18,759.60 L188.53,759.51 L188.88,759.43 L189.23,759.34 L189.59,759.26 L189.94,759.17 L190.29,759.09 L190.65,759.00 L191.00,758.91 L191.35,758.83 L191.71,758.74 L192.06,758.65 L192.41,758.56 L192.76,758.48 L193.12,758.39 L193.47,758.30 L193.82,758.21 L194.18,758.12 L194.53,758.03 L194.88,757.94 L195.24,757.85 L195.59,757.76 L195.94,757.68 L196.30,757.59 L196.65,757.50 L197.00,757.41 L197.35,757.32 L197.71,757.22 L198.06,757.13 L198.41,757.04 L198.77,756.95 L199.12,756.86 L199.47,756.77 L199.83,756.68 L200.18,756.59 L200.53,756.50 L200.89,756.40"/><path d="M200.89,756.40 L201.32,756.29 L201.75,756.18 L202.18,756.07 L202.61,755.95 L203.04,755.84 L203.47,755.72 L203.90,755.61 L204.33,755.50 L204.76,755.38 L205.19,755.26 L205.62,755.15 L206.05,755.03 L206.48,754.92 L206.91,754.80 L207.34,754.68 L207.77,754.56 L208.20,754.45 L208.64,754.33 L209.07,754.21 L209.50,754.09 L209.93,753.97 L210.36,753.85 L210.79,753.73 L211.22,753.61 L211.65,753.49 L212.08,753.37 L212.51,753.25 L212.94,753.12 L213.37,753.00 L213.80,752.88 L214.23,752.75 L214.66,752.63 L215.09,752.50 L215.52,752.38 L215.95,752.25 L216.39,752.13 L216.82,752.00 L217.25,751.87 L217.68,751.74 L218.11,751.62 L218.54,751.49 L218.97,751.36 L219.40,751.23 L219.83,751.10 L220.26,750.97 L220.69,750.83 L221.12,750.70 L221.55,750.57 L221.98,750.43 L222.41,750.30 L222.84,750.16 L223.27,750.02 L223.70,749.88 L224.14,749.75 L224.57,749.61 L225.00,749.47 L225.43,749.33 L225.86,749.19 L226.29,749.04 L226.72,748.90 L227.15,748.76 L227.58,748.62 L228.01,748.47 L228.44,748.33 L228.87,748.18 L229.30,748.04 L229.73,747.89 L230.16,747.75 L230.59,747.60 L231.02,747.45 L231.45,747.30 L231.89,747.16 L232.32,747.01 L232.75,746.86 L233.18,746.71 L233.61,746.56 L234.04,746.41 L234.47,746.26 L234.90,746.11 L235.33,745.96 L235.76,745.81 L236.19,745.66 L236.62,745.51 L237.05,745.36 L237.48,745.21 L237.91,745.06 L238.34,744.91 L238.77,744.76 L239.20,744.61 L239.64,744.46 L240.07,744.31 L240.50,744.16 L240.93,744.00 L241.36,743.85 L241.79,743.70 L242.22,743.55 L242.65,743.40 L243.08,743.25 L243.51,743.10 L243.94,742.95 L244.37,742.80 L244.80,742.65 L245.23,742.50 L245.66,742.35 L246.09,742.20 L246.52,742.05 L246.95,741.89 L247.39,741.74 L247.82,741.59 L248.25,741.44 L248.68,741.28 L249.11,741.13 L249.54,740.97 L249.97,740.82 L250.40,740.66 L250.83,740.51 L251.26,740.35 L251.69,740.20 L252.12,740.04 L252.55,739.88 L252.98,739.73 L253.41,739.57 L253.84,739.41 L254.27,739.26 L254.70,739.10 L255.14,738.94 L255.57,738.78 L256.00,738.63 L256.43,738.47 L256.86,738.31 L257.29,738.15 L257.72,738.00 L258.15,737.84 L258.58,737.68 L259.01,737.52 L259.44,737.37 L259.87,737.21 L260.30,737.05 L260.73,736.90 L261.16,736.74 L261.59,736.58 L262.02,736.43 L262.45,736.27 L262.89,736.11 L263.32,735.96 L263.75,735.80 L264.18,735.65 L264.61,735.49 L265.04,735.34 L265.47,735.19 L265.90,735.03 L266.33,734.88 L266.76,734.73 L267.19,734.57 L267.62,734.42 L268.05,734.27 L268.48,734.12 L268.91,733.97 L269.34,733.82 L269.77,733.67 L270.20,733.52 L270.64,733.37 L271.07,733.23 L271.50,733.08 L271.93,732.93 L272.36,732.78 L272.79,732.64 L273.22,732.49 L273.65,732.34 L274.08,732.20 L274.51,732.05 L274.94,731.91 L275.37,731.76 L275.80,731.62 L276.23,731.47 L276.66,731.33 L277.09,731.18 L277.52,731.04 L277.95,730.89 L278.39,730.75 L278.82,730.60 L279.25,730.46 L279.68,730.32 L280.11,730.17 L280.54,730.03 L280.97,729.89 L281.40,729.74 L281.83,729.60 L282.26,729.46 L282.69,729.32 L283.12,729.17 L283.55,729.03 L283.98,728.89 L284.41,728.75 L284.84,728.60 L285.27,728.46 L285.70,728.32 L286.14,728.18 L286.57,728.04 L287.00,727.90 L287.43,727.76 L287.86,727.62 L288.29,727.48 L288.72,727.34 L289.15,727.19 L289.58,727.05 L290.01,726.91 L290.44,726.77 L290.87,726.63 L291.30,726.49 L291.73,726.35 L292.16,726.22 L292.59,726.08 L293.02,725.94 L293.45,725.80 L293.89,725.66 L294.32,725.52 L294.75,725.38 L295.18,725.24 L295.61,725.10 L296.04,724.96 L296.47,724.82 L296.90,724.69 L297.33,724.55 L297.76,724.41 L298.19,724.27 L298.62,724.13 L299.05,723.99 L299.48,723.86 L299.91,723.72 L300.34,723.58 L300.77,723.44 L301.20,723.30 L301.64,723.17 L302.07,723.03 L302.50,722.89 L302.93,722.75 L303.36,722.62 L303.79,722.48 L304.22,722.34 L304.65,722.20 L305.08,722.07 L305.51,721.93 L305.94,721.79 L306.37,721.65 L306.80,721.52 L307.23,721.38 L307.66,721.24 L308.09,721.10 L308.52,720.97 L308.95,720.83 L309.39,720.69 L309.82,720.56 L310.25,720.42 L310.68,720.28 L311.11,720.14 L311.54,720.01 L311.97,719.87 L312.40,719.73 L312.83,719.60 L313.26,719.46 L313.69,719.32 L314.12,719.18 L314.55,719.05 L314.98,718.91 L315.41,718.77 L315.84,718.63 L316.27,718.50 L316.70,718.36 L317.14,718.22 L317.57,718.09 L318.00,717.95 L318.43,717.81 L318.86,717.67 L319.29,717.54 L319.72,717.40 L320.15,717.26 L320.58,717.12 L321.01,716.99 L321.44,716.85 L321.87,716.71 L322.30,716.57 L322.73,716.43 L323.16,716.30 L323.59,716.16"/><path d="M323.59,716.16 L324.02,716.02 L324.46,715.88 L324.89,715.75 L325.32,715.61 L325.75,715.47 L326.18,715.33 L326.61,715.20 L327.04,715.06 L327.47,714.92 L327.91,714.78 L328.34,714.65 L328.77,714.51 L329.20,714.37 L329.63,714.23 L330.06,714.10 L330.49,713.96 L330.93,713.82 L331.36,713.68 L331.79,713.55 L332.22,713.41 L332.65,713.27 L333.08,713.14 L333.51,713.00 L333.94,712.86 L334.38,712.73 L334.81,712.59 L335.24,712.45 L335.67,712.32 L336.10,712.18 L336.53,712.04 L336.96,711.91 L337.39,711.77 L337.83,711.63 L338.26,711.50 L338.69,711.36 L339.12,711.22 L339.55,711.09 L339.98,710.95 L340.41,710.82 L340.84,710.68 L341.28,710.54 L341.71,710.41 L342.14,710.27 L342.57,710.13 L343.00,710.00 L343.43,709.86 L343.86,709.73 L344.29,709.59 L344.73,709.45 L345.16,709.32 L345.59,709.18 L346.02,709.05 L346.45,708.91 L346.88,708.77 L347.31,708.64 L347.74,708.50 L348.18,708.37 L348.61,708.23 L349.04,708.10 L349.47,707.96 L349.90,707.83 L350.33,707.69 L350.76,707.55 L351.19,707.42 L351.63,707.28 L352.06,707.15 L352.49,707.01 L352.92,706.88 L353.35,706.74 L353.78,706.61 L354.21,706.47 L354.65,706.34 L355.08,706.20 L355.51,706.07 L355.94,705.93 L356.37,705.79 L356.80,705.66 L357.23,705.52 L357.66,705.39 L358.10,705.25 L358.53,705.12 L358.96,704.98 L359.39,704.85 L359.82,704.71 L360.25,704.58 L360.68,704.44 L361.11,704.31 L361.55,704.17 L361.98,704.04 L362.41,703.91 L362.84,703.77 L363.27,703.64 L363.70,703.50 L364.13,703.37 L364.56,703.23 L365.00,703.10 L365.43,702.96 L365.86,702.83 L366.29,702.69 L366.72,702.56 L367.15,702.42 L367.58,702.29 L368.01,702.15 L368.45,702.02 L368.88,701.88 L369.31,701.75 L369.74,701.62 L370.17,701.48 L370.60,701.35 L371.03,701.21 L371.46,701.08 L371.90,700.94 L372.33,700.81 L372.76,700.67 L373.19,700.54 L373.62,700.41 L374.05,700.27 L374.48,700.14 L374.91,700.00 L375.35,699.87 L375.78,699.73 L376.21,699.60 L376.64,699.47 L377.07,699.33 L377.50,699.20 L377.93,699.06 L378.37,698.93 L378.80,698.79 L379.23,698.66 L379.66,698.53 L380.09,698.39 L380.52,698.26 L380.95,698.12 L381.38,697.99 L381.82,697.86 L382.25,697.72 L382.68,697.59 L383.11,697.45 L383.54,697.32 L383.97,697.19 L384.40,697.05 L384.83,696.92 L385.27,696.79 L385.70,696.65 L386.13,696.52 L386.56,696.38 L386.99,696.25 L387.42,696.12 L387.85,695.98 L388.28,695.85 L388.72,695.72 L389.15,695.58 L389.58,695.45 L390.01,695.32 L390.44,695.18 L390.87,695.05 L391.30,694.92 L391.73,694.78 L392.17,694.65 L392.60,694.52 L393.03,694.38 L393.46,694.25 L393.89,694.12 L394.32,693.98 L394.75,693.85 L395.18,693.72 L395.62,693.58 L396.05,693.45 L396.48,693.32 L396.91,693.18 L397.34,693.05 L397.77,692.92 L398.20,692.78 L398.63,692.65 L399.07,692.52 L399.50,692.38 L399.93,692.25 L400.36,692.12 L400.79,691.99 L401.22,691.85 L401.65,691.72 L402.09,691.59 L402.52,691.45 L402.95,691.32 L403.38,691.19 L403.81,691.06 L404.24,690.92 L404.67,690.79 L405.10,690.66 L405.54,690.53 L405.97,690.39 L406.40,690.26 L406.83,690.13 L407.26,690.00 L407.69,689.86 L408.12,689.73 L408.55,689.60 L408.99,689.47 L409.42,689.33 L409.85,689.20 L410.28,689.07 L410.71,688.94 L411.14,688.80 L411.57,688.67 L412.00,688.54 L412.44,688.41 L412.87,688.28 L413.30,688.14 L413.73,688.01 L414.16,687.88 L414.59,687.75 L415.02,687.61 L415.45,687.48 L415.89,687.35 L416.32,687.22 L416.75,687.09 L417.18,686.95 L417.61,686.82 L418.04,686.69 L418.47,686.56 L418.90,686.43 L419.34,686.30 L419.77,686.16 L420.20,686.03 L420.63,685.90 L421.06,685.77 L421.49,685.64 L421.92,685.51 L422.35,685.37 L422.79,685.24 L423.22,685.11 L423.65,684.98 L424.08,684.85 L424.51,684.72 L424.94,684.58 L425.37,684.45 L425.80,684.32 L426.24,684.19 L426.67,684.06 L427.10,683.93 L427.53,683.80 L427.96,683.66 L428.39,683.53 L428.82,683.40 L429.26,683.27 L429.69,683.14 L430.12,683.01 L430.55,682.88 L430.98,682.74 L431.41,682.61 L431.84,682.48 L432.27,682.35 L432.71,682.22 L433.14,682.09 L433.57,681.96 L434.00,681.83 L434.43,681.69 L434.86,681.56 L435.29,681.43 L435.72,681.30 L436.16,681.17 L436.59,681.04 L437.02,680.91 L437.45,680.78 L437.88,680.65 L438.31,680.52 L438.74,680.38 L439.17,680.25 L439.61,680.12 L440.04,679.99 L440.47,679.86 L440.90,679.73"/><path d="M440.90,679.73 L441.33,679.60 L441.76,679.47 L442.19,679.34 L442.62,679.21 L443.05,679.08 L443.48,678.95 L443.91,678.82 L444.34,678.69 L444.77,678.56 L445.20,678.43 L445.63,678.30 L446.06,678.16 L446.49,678.03 L446.92,677.90 L447.35,677.77 L447.79,677.64 L448.22,677.51 L448.65,677.38 L449.08,677.25 L449.51,677.12 L449.94,676.99 L450.37,676.86 L450.80,676.73 L451.23,676.60 L451.66,676.47 L452.09,676.34 L452.52,676.21 L452.95,676.08 L453.38,675.95 L453.81,675.82 L454.24,675.70 L454.67,675.57 L455.10,675.44 L455.53,675.31 L455.96,675.18 L456.39,675.05 L456.82,674.92 L457.25,674.79 L457.68,674.66 L458.11,674.53 L458.54,674.40 L458.97,674.27 L459.41,674.14 L459.84,674.01 L460.27,673.88 L460.70,673.75 L461.13,673.62 L461.56,673.50 L461.99,673.37 L462.42,673.24 L462.85,673.11 L463.28,672.98 L463.71,672.85 L464.14,672.72 L464.57,672.59 L465.00,672.46 L465.43,672.34 L465.86,672.21 L466.29,672.08 L466.72,671.95 L467.15,671.82 L467.58,671.69 L468.01,671.56 L468.44,671.44 L468.87,671.31 L469.30,671.18 L469.73,671.05 L470.16,670.92 L470.59,670.79 L471.02,670.67 L471.46,670.54 L471.89,670.41 L472.32,670.28 L472.75,670.15 L473.18,670.03 L473.61,669.90 L474.04,669.77 L474.47,669.64 L474.90,669.51 L475.33,669.39 L475.76,669.26 L476.19,669.13 L476.62,669.00 L477.05,668.88 L477.48,668.75 L477.91,668.62 L478.34,668.49 L478.77,668.37 L479.20,668.24 L479.63,668.11 L480.06,667.99 L480.49,667.86 L480.92,667.73 L481.35,667.60 L481.78,667.48 L482.21,667.35 L482.64,667.22 L483.07,667.10 L483.51,666.97 L483.94,666.84 L484.37,666.71 L484.80,666.59 L485.23,666.46 L485.66,666.33 L486.09,666.21 L486.52,666.08 L486.95,665.95 L487.38,665.83 L487.81,665.70 L488.24,665.57 L488.67,665.45 L489.10,665.32 L489.53,665.19 L489.96,665.07 L490.39,664.94 L490.82,664.82 L491.25,664.69 L491.68,664.56 L492.11,664.44 L492.54,664.31 L492.97,664.18 L493.40,664.06 L493.83,663.93 L494.26,663.81 L494.69,663.68 L495.13,663.55 L495.56,663.43 L495.99,663.30 L496.42,663.18 L496.85,663.05 L497.28,662.92 L497.71,662.80 L498.14,662.67 L498.57,662.55 L499.00,662.42 L499.43,662.30 L499.86,662.17 L500.29,662.04 L500.72,661.92 L501.15,661.79 L501.58,661.67 L502.01,661.54 L502.44,661.42 L502.87,661.29 L503.30,661.17 L503.73,661.04 L504.16,660.92 L504.59,660.79 L505.02,660.67 L505.45,660.54 L505.88,660.41 L506.31,660.29 L506.74,660.16 L507.18,660.04 L507.61,659.91 L508.04,659.79 L508.47,659.67 L508.90,659.54 L509.33,659.42 L509.76,659.29 L510.19,659.17 L510.62,659.04 L511.05,658.92 L511.48,658.79 L511.91,658.67 L512.34,658.54 L512.77,658.42 L513.20,658.29 L513.63,658.17 L514.06,658.04 L514.49,657.92 L514.92,657.80 L515.35,657.67 L515.78,657.55 L516.21,657.42 L516.64,657.30 L517.07,657.18 L517.50,657.05 L517.93,656.93 L518.36,656.80 L518.79,656.68 L519.23,656.56 L519.66,656.43 L520.09,656.31 L520.52,656.18 L520.95,656.06 L521.38,655.94 L521.81,655.81 L522.24,655.69 L522.67,655.56 L523.10,655.44 L523.53,655.32 L523.96,655.19 L524.39,655.07 L524.82,654.95 L525.25,654.82 L525.68,654.70 L526.11,654.58 L526.54,654.45 L526.97,654.33 L527.40,654.21 L527.83,654.08 L528.26,653.96 L528.69,653.84 L529.12,653.71 L529.55,653.59 L529.98,653.47 L530.41,653.35 L530.85,653.22 L531.28,653.10 L531.71,652.98 L532.14,652.85 L532.57,652.73 L533.00,652.61 L533.43,652.49 L533.86,652.36 L534.29,652.24 L534.72,652.12 L535.15,651.99 L535.58,651.87 L536.01,651.75 L536.44,651.63 L536.87,651.50 L537.30,651.38 L537.73,651.26 L538.16,651.14 L538.59,651.01 L539.02,650.89 L539.45,650.77 L539.88,650.65 L540.31,650.52 L540.74,650.40 L541.17,650.28 L541.60,650.16 L542.03,650.03 L542.46,649.91 L542.90,649.79 L543.33,649.67 L543.76,649.55 L544.19,649.42 L544.62,649.30 L545.05,649.18 L545.48,649.06 L545.91,648.94 L546.34,648.81 L546.77,648.69 L547.20,648.57 L547.63,648.45 L548.06,648.33 L548.49,648.20 L548.92,648.08 L549.35,647.96 L549.78,647.84 L550.21,647.72 L550.64,647.60 L551.07,647.47 L551.50,647.35 L551.93,647.23 L552.36,647.11 L552.79,646.99 L553.22,646.87 L553.65,646.75 L554.08,646.63 L554.52,646.50 L554.95,646.38 L555.38,646.26"/><path d="M555.38,646.26 L555.81,646.14 L556.24,646.02 L556.67,645.90 L557.10,645.78 L557.53,645.66 L557.97,645.53 L558.40,645.41 L558.83,645.29 L559.26,645.17 L559.69,645.05 L560.12,644.93 L560.55,644.81 L560.99,644.69 L561.42,644.57 L561.85,644.45 L562.28,644.33 L562.71,644.21 L563.14,644.09 L563.58,643.96 L564.01,643.84 L564.44,643.72 L564.87,643.60 L565.30,643.48 L565.73,643.36 L566.17,643.24 L566.60,643.12 L567.03,643.00 L567.46,642.88 L567.89,642.76 L568.32,642.64 L568.75,642.52 L569.19,642.40 L569.62,642.28 L570.05,642.16 L570.48,642.04 L570.91,641.92 L571.34,641.80 L571.78,641.69 L572.21,641.57 L572.64,641.45 L573.07,641.33 L573.50,641.21 L573.93,641.09 L574.37,640.97 L574.80,640.85 L575.23,640.73 L575.66,640.61 L576.09,640.49 L576.52,640.38 L576.95,640.26 L577.39,640.14 L577.82,640.02 L578.25,639.90 L578.68,639.78 L579.11,639.66 L579.54,639.55 L579.98,639.43 L580.41,639.31 L580.84,639.19 L581.27,639.07 L581.70,638.95 L582.13,638.84 L582.56,638.72 L583.00,638.60 L583.43,638.48 L583.86,638.37 L584.29,638.25 L584.72,638.13 L585.15,638.01 L585.59,637.89 L586.02,637.78 L586.45,637.66 L586.88,637.54 L587.31,637.42 L587.74,637.31 L588.18,637.19 L588.61,637.07 L589.04,636.96 L589.47,636.84 L589.90,636.72 L590.33,636.60 L590.76,636.49 L591.20,636.37 L591.63,636.25 L592.06,636.14 L592.49,636.02 L592.92,635.90 L593.35,635.79 L593.79,635.67 L594.22,635.55 L594.65,635.44 L595.08,635.32 L595.51,635.21 L595.94,635.09 L596.38,634.97 L596.81,634.86 L597.24,634.74 L597.67,634.62 L598.10,634.51 L598.53,634.39 L598.96,634.28 L599.40,634.16 L599.83,634.04 L600.26,633.93 L600.69,633.81 L601.12,633.70 L601.55,633.58 L601.99,633.47 L602.42,633.35 L602.85,633.23 L603.28,633.12 L603.71,633.00 L604.14,632.89 L604.58,632.77 L605.01,632.66 L605.44,632.54 L605.87,632.43 L606.30,632.31 L606.73,632.20 L607.16,632.08 L607.60,631.97 L608.03,631.85 L608.46,631.74 L608.89,631.62 L609.32,631.51 L609.75,631.39 L610.19,631.28 L610.62,631.16 L611.05,631.05 L611.48,630.93 L611.91,630.82 L612.34,630.70 L612.78,630.59 L613.21,630.47 L613.64,630.36 L614.07,630.24 L614.50,630.13 L614.93,630.01 L615.36,629.90 L615.80,629.79 L616.23,629.67 L616.66,629.56 L617.09,629.44 L617.52,629.33 L617.95,629.21 L618.39,629.10 L618.82,628.99 L619.25,628.87 L619.68,628.76 L620.11,628.64 L620.54,628.53 L620.98,628.42 L621.41,628.30 L621.84,628.19 L622.27,628.07 L622.70,627.96 L623.13,627.85 L623.56,627.73 L624.00,627.62 L624.43,627.51 L624.86,627.39 L625.29,627.28 L625.72,627.16 L626.15,627.05 L626.59,626.94 L627.02,626.82 L627.45,626.71 L627.88,626.60 L628.31,626.48 L628.74,626.37 L629.18,626.26 L629.61,626.14 L630.04,626.03 L630.47,625.92 L630.90,625.80 L631.33,625.69 L631.76,625.58 L632.20,625.46 L632.63,625.35 L633.06,625.24 L633.49,625.12 L633.92,625.01 L634.35,624.90 L634.79,624.79 L635.22,624.67 L635.65,624.56 L636.08,624.45 L636.51,624.33 L636.94,624.22 L637.37,624.11 L637.81,624.00 L638.24,623.88 L638.67,623.77 L639.10,623.66 L639.53,623.55 L639.96,623.43 L640.40,623.32 L640.83,623.21 L641.26,623.10 L641.69,622.99 L642.12,622.87 L642.55,622.76 L642.99,622.65 L643.42,622.54 L643.85,622.43 L644.28,622.31 L644.71,622.20 L645.14,622.09 L645.57,621.98 L646.01,621.87 L646.44,621.75 L646.87,621.64 L647.30,621.53 L647.73,621.42 L648.16,621.31 L648.60,621.20 L649.03,621.08 L649.46,620.97 L649.89,620.86 L650.32,620.75 L650.75,620.64 L651.19,620.53 L651.62,620.42 L652.05,620.30 L652.48,620.19 L652.91,620.08 L653.34,619.97 L653.77,619.86 L654.21,619.75 L654.64,619.64 L655.07,619.53 L655.50,619.42 L655.93,619.30 L656.36,619.19 L656.80,619.08 L657.23,618.97 L657.66,618.86 L658.09,618.75 L658.52,618.64 L658.95,618.53 L659.39,618.42 L659.82,618.31 L660.25,618.20 L660.68,618.09 L661.11,617.97 L661.54,617.86 L661.97,617.75 L662.41,617.64 L662.84,617.53 L663.27,617.42 L663.70,617.31 L664.13,617.20 L664.56,617.09 L665.00,616.98 L665.43,616.87"/><path d="M665.43,616.87 L665.86,616.76 L666.29,616.65 L666.72,616.54 L667.16,616.43 L667.59,616.32 L668.02,616.21 L668.45,616.10 L668.88,615.99 L669.32,615.88 L669.75,615.77 L670.18,615.66 L670.61,615.55 L671.05,615.43 L671.48,615.32 L671.91,615.21 L672.34,615.10 L672.77,614.99 L673.21,614.88 L673.64,614.77 L674.07,614.66 L674.50,614.55 L674.94,614.44 L675.37,614.33 L675.80,614.22 L676.23,614.11 L676.66,614.00 L677.10,613.89 L677.53,613.78 L677.96,613.67 L678.39,613.56 L678.82,613.45 L679.26,613.34 L679.69,613.23 L680.12,613.12 L680.55,613.01 L680.99,612.90 L681.42,612.79 L681.85,612.68 L682.28,612.57 L682.71,612.47 L683.15,612.36 L683.58,612.25 L684.01,612.14 L684.44,612.03 L684.88,611.92 L685.31,611.81 L685.74,611.69 L686.17,611.58 L686.60,611.47 L687.04,611.36 L687.47,611.25 L687.90,611.14 L688.33,611.03 L688.77,610.92 L689.20,610.81 L689.63,610.70 L690.06,610.59 L690.49,610.48 L690.93,610.37 L691.36,610.26 L691.79,610.15 L692.22,610.04 L692.65,609.93 L693.09,609.82 L693.52,609.71 L693.95,609.60 L694.38,609.49 L694.82,609.38 L695.25,609.27 L695.68,609.15 L696.11,609.04 L696.54,608.93 L696.98,608.82 L697.41,608.71 L697.84,608.60 L698.27,608.49 L698.71,608.38 L699.14,608.27 L699.57,608.16 L700.00,608.05 L700.43,607.94 L700.87,607.83 L701.30,607.72 L701.73,607.61 L702.16,607.50 L702.59,607.39 L703.03,607.28 L703.46,607.17 L703.89,607.06 L704.32,606.95 L704.76,606.84 L705.19,606.73 L705.62,606.62 L706.05,606.51 L706.48,606.40 L706.92,606.29 L707.35,606.18 L707.78,606.07 L708.21,605.96 L708.65,605.85 L709.08,605.74 L709.51,605.63 L709.94,605.52 L710.37,605.41 L710.81,605.30 L711.24,605.20 L711.67,605.09 L712.10,604.98 L712.53,604.87 L712.97,604.76 L713.40,604.65 L713.83,604.54 L714.26,604.43 L714.70,604.33 L715.13,604.22 L715.56,604.11 L715.99,604.00 L716.42,603.89 L716.86,603.79 L717.29,603.68 L717.72,603.57 L718.15,603.46 L718.59,603.36 L719.02,603.25 L719.45,603.14 L719.88,603.03 L720.31,602.93 L720.75,602.82 L721.18,602.71 L721.61,602.61 L722.04,602.50 L722.48,602.39 L722.91,602.29 L723.34,602.18 L723.77,602.08 L724.20,601.97 L724.64,601.87 L725.07,601.76 L725.50,601.65 L725.93,601.55 L726.36,601.44 L726.80,601.34 L727.23,601.23 L727.66,601.13 L728.09,601.03 L728.53,600.92 L728.96,600.82 L729.39,600.71 L729.82,600.61 L730.25,600.51 L730.69,600.40 L731.12,600.30 L731.55,600.20 L731.98,600.09 L732.42,599.99 L732.85,599.89 L733.28,599.79 L733.71,599.68 L734.14,599.58 L734.58,599.48 L735.01,599.38 L735.44,599.28 L735.87,599.17 L736.30,599.07 L736.74,598.97 L737.17,598.87 L737.60,598.77 L738.03,598.67 L738.47,598.56 L738.90,598.46 L739.33,598.36 L739.76,598.26 L740.19,598.16 L740.63,598.06 L741.06,597.96 L741.49,597.86 L741.92,597.76 L742.36,597.66 L742.79,597.56 L743.22,597.46 L743.65,597.36 L744.08,597.26 L744.52,597.16 L744.95,597.06 L745.38,596.96 L745.81,596.86 L746.24,596.76 L746.68,596.66 L747.11,596.56 L747.54,596.46 L747.97,596.36 L748.41,596.26 L748.84,596.16 L749.27,596.06 L749.70,595.96 L750.13,595.87 L750.57,595.77 L751.00,595.67 L751.43,595.57 L751.86,595.47 L752.30,595.37 L752.73,595.28 L753.16,595.18 L753.59,595.08 L754.02,594.98 L754.46,594.88 L754.89,594.79 L755.32,594.69 L755.75,594.59 L756.19,594.49 L756.62,594.40 L757.05,594.30 L757.48,594.20 L757.91,594.10 L758.35,594.01 L758.78,593.91 L759.21,593.81 L759.64,593.72 L760.07,593.62 L760.51,593.52 L760.94,593.43 L761.37,593.33 L761.80,593.23 L762.24,593.14 L762.67,593.04 L763.10,592.95 L763.53,592.85 L763.96,592.75 L764.40,592.66 L764.83,592.56 L765.26,592.47 L765.69,592.37 L766.13,592.28 L766.56,592.18 L766.99,592.09 L767.42,591.99 L767.85,591.90 L768.29,591.80 L768.72,591.71 L769.15,591.61 L769.58,591.52 L770.01,591.42 L770.45,591.33 L770.88,591.24 L771.31,591.14"/><path d="M771.31,591.14 L771.76,591.05 L772.20,590.95 L772.65,590.85 L773.09,590.76 L773.54,590.66 L773.98,590.56 L774.42,590.47 L774.87,590.37 L775.31,590.28 L775.76,590.18 L776.20,590.08 L776.65,589.99 L777.09,589.89 L777.54,589.80 L777.98,589.70 L778.43,589.61 L778.87,589.51 L779.32,589.42 L779.76,589.32 L780.21,589.23 L780.65,589.13 L781.10,589.04 L781.54,588.94 L781.99,588.85 L782.43,588.76 L782.88,588.66 L783.32,588.57 L783.77,588.47 L784.21,588.38 L784.66,588.29 L785.10,588.19"/></g>
<rect x="111.25" y="413.60" width="10.00" height="10.00" fill="none" stroke="#ff0000" stroke-width="2.4"/><rect x="162.70" y="417.19" width="10.00" height="10.00" fill="none" stroke="#ff0000" stroke-width="2.4"/><rect x="214.15" y="427.30" width="10.00" height="10.00" fill="none" stroke="#ff0000" stroke-width="2.4"/><rect x="265.60" y="439.88" width="10.00" height="10.00" fill="none" stroke="#ff0000" stroke-width="2.4"/><rect x="317.05" y="453.20" width="10.00" height="10.00" fill="none" stroke="#ff0000" stroke-width="2.4"/><rect x="368.50" y="467.11" width="10.00" height="10.00" fill="none" stroke="#ff0000" stroke-width="2.4"/><rect x="419.95" y="481.09" width="10.00" height="10.00" fill="none" stroke="#ff0000" stroke-width="2.4"/><rect x="471.40" y="495.17" width="10.00" height="10.00" fill="none" stroke="#ff0000" stroke-width="2.4"/><rect x="522.85" y="509.26" width="10.00" height="10.00" fill="none" stroke="#ff0000" stroke-width="2.4"/><rect x="574.30" y="522.99" width="10.00" height="10.00" fill="none" stroke="#ff0000" stroke-width="2.4"/><rect x="625.75" y="536.73" width="10.00" height="10.00" fill="none" stroke="#ff0000" stroke-width="2.4"/><rect x="677.20" y="549.97" width="10.00" height="10.00" fill="none" stroke="#ff0000" stroke-width="2.4"/><rect x="728.65" y="563.01" width="10.00" height="10.00" fill="none" stroke="#ff0000" stroke-width="2.4"/><circle cx="116.25" cy="767.20" r="4.85" fill="none" stroke="#ffa500" stroke-width="2.4"/><circle cx="167.70" cy="763.61" r="4.85" fill="none" stroke="#ffa500" stroke-width="2.4"/><circle cx="219.15" cy="753.50" r="4.85" fill="none" stroke="#ffa500" stroke-width="2.4"/><circle cx="270.60" cy="740.92" r="4.85" fill="none" stroke="#ffa500" stroke-width="2.4"/><circle cx="322.05" cy="727.60" r="4.85" fill="none" stroke="#ffa500" stroke-width="2.4"/><circle cx="373.50" cy="713.69" r="4.85" fill="none" stroke="#ffa500" stroke-width="2.4"/><circle cx="424.95" cy="699.71" r="4.85" fill="none" stroke="#ffa500" stroke-width="2.4"/><circle cx="476.40" cy="685.63" r="4.85" fill="none" stroke="#ffa500" stroke-width="2.4"/><circle cx="527.85" cy="671.54" r="4.85" fill="none" stroke="#ffa500" stroke-width="2.4"/><circle cx="579.30" cy="657.81" r="4.85" fill="none" stroke="#ffa500" stroke-width="2.4"/><circle cx="630.75" cy="644.07" r="4.85" fill="none" stroke="#ffa500" stroke-width="2.4"/><circle cx="682.20" cy="630.83" r="4.85" fill="none" stroke="#ffa500" stroke-width="2.4"/><circle cx="733.65" cy="617.79" r="4.85" fill="none" stroke="#ffa500" stroke-width="2.4"/>
<rect x="111.10" y="401.25" width="674.10" height="383.20" fill="none" stroke="#000" stroke-width="1.50"/>
<text x="263.1" y="565.60" font-family="'Liberation Sans', sans-serif" font-weight="700" font-size="24.25" fill="#000">QSS phase</text><line x1="275.8" y1="575.50" x2="366" y2="575.50" stroke="#000" stroke-width="2.40"/><polygon points="364.9,571.00 378.9,575.50 364.9,580.00" fill="#000" stroke="#000" stroke-width="1.2" stroke-linejoin="round"/>
<text x="340.3" y="428.75" font-family="'Liberation Sans', sans-serif" font-weight="700" font-size="24.25" fill="#000">DMS: N<tspan font-size="19.4" dy="7.15">2</tspan></text>
<text x="419.1" y="461.4" font-family="'Liberation Sans', sans-serif" font-weight="700" font-size="24.25" fill="#000">N</text>
<text x="520.3" y="428.75" font-family="'Liberation Sans', sans-serif" font-weight="700" font-size="24.25" fill="#000">CFD-MMT: N<tspan font-size="19.4" dy="7.15">2</tspan></text>
<text x="659.1" y="461.4" font-family="'Liberation Sans', sans-serif" font-weight="700" font-size="24.25" fill="#000">N</text>
<line x1="451" y1="423.2" x2="516.4" y2="423.2" stroke="#ff0000" stroke-width="2.40"/>
<rect x="478.80" y="418.20" width="10.00" height="10.00" fill="none" stroke="#ff0000" stroke-width="2.4"/>
<line x1="451" y1="453.5" x2="516.4" y2="453.5" stroke="#ffa500" stroke-width="2.40"/>
<circle cx="483.80" cy="453.50" r="4.85" fill="none" stroke="#ffa500" stroke-width="2.4"/>
<line x1="690.9" y1="423.25" x2="756" y2="423.25" stroke="#ff0000" stroke-width="3.65" stroke-dasharray="7.00 9.50"/>
<line x1="690.9" y1="453.65" x2="756" y2="453.65" stroke="#ffa500" stroke-width="3.65" stroke-dasharray="7.00 9.50"/>
<text x="97.1" y="775.30" text-anchor="end" font-family="'Liberation Sans', sans-serif" font-weight="700" font-size="24.25" fill="#000">0</text>
<text x="97.1" y="705.58" text-anchor="end" font-family="'Liberation Sans', sans-serif" font-weight="700" font-size="24.25" fill="#000">0.2</text>
<text x="97.1" y="635.86" text-anchor="end" font-family="'Liberation Sans', sans-serif" font-weight="700" font-size="24.25" fill="#000">0.4</text>
<text x="97.1" y="566.14" text-anchor="end" font-family="'Liberation Sans', sans-serif" font-weight="700" font-size="24.25" fill="#000">0.6</text>
<text x="97.1" y="496.42" text-anchor="end" font-family="'Liberation Sans', sans-serif" font-weight="700" font-size="24.25" fill="#000">0.8</text>
<text x="97.1" y="426.70" text-anchor="end" font-family="'Liberation Sans', sans-serif" font-weight="700" font-size="24.25" fill="#000">1</text>
<text transform="translate(21.6,593.2) rotate(-90)" text-anchor="middle" font-family="'Liberation Sans', sans-serif" font-weight="700" font-size="24.25" fill="#000">mole fractions [-]</text>
<text x="116.25" y="817.2" text-anchor="middle" font-family="'Liberation Sans', sans-serif" font-weight="700" font-size="24.25" fill="#000">0</text>
<text x="219.15" y="817.2" text-anchor="middle" font-family="'Liberation Sans', sans-serif" font-weight="700" font-size="24.25" fill="#000">2</text>
<text x="322.05" y="817.2" text-anchor="middle" font-family="'Liberation Sans', sans-serif" font-weight="700" font-size="24.25" fill="#000">4</text>
<text x="424.95" y="817.2" text-anchor="middle" font-family="'Liberation Sans', sans-serif" font-weight="700" font-size="24.25" fill="#000">6</text>
<text x="527.85" y="817.2" text-anchor="middle" font-family="'Liberation Sans', sans-serif" font-weight="700" font-size="24.25" fill="#000">8</text>
<text x="630.75" y="817.2" text-anchor="middle" font-family="'Liberation Sans', sans-serif" font-weight="700" font-size="24.25" fill="#000">10</text>
<text x="733.65" y="817.2" text-anchor="middle" font-family="'Liberation Sans', sans-serif" font-weight="700" font-size="24.25" fill="#000">12</text>
<text x="398.0" y="853.2" font-family="'Liberation Sans', sans-serif" font-weight="700" font-size="24.25" fill="#000">time [<tspan font-family="'Liberation Serif', serif" font-weight="400">μ</tspan>s]</text>
<rect x="30.00" y="51.60" width="5.42" height="4.00" fill="#fff"/><rect x="38.72" y="51.60" width="4.28" height="4.00" fill="#fff"/>
<rect x="84.00" y="423.60" width="5.18" height="4.00" fill="#fff"/><rect x="92.47" y="423.60" width="5.53" height="4.00" fill="#fff"/>
<rect x="617.00" y="813.60" width="5.90" height="4.00" fill="#fff"/><rect x="626.24" y="813.60" width="4.36" height="4.00" fill="#fff"/>
<rect x="720.00" y="813.60" width="5.90" height="4.00" fill="#fff"/><rect x="729.24" y="813.60" width="4.26" height="4.00" fill="#fff"/>
</svg>
</body>
</html>
